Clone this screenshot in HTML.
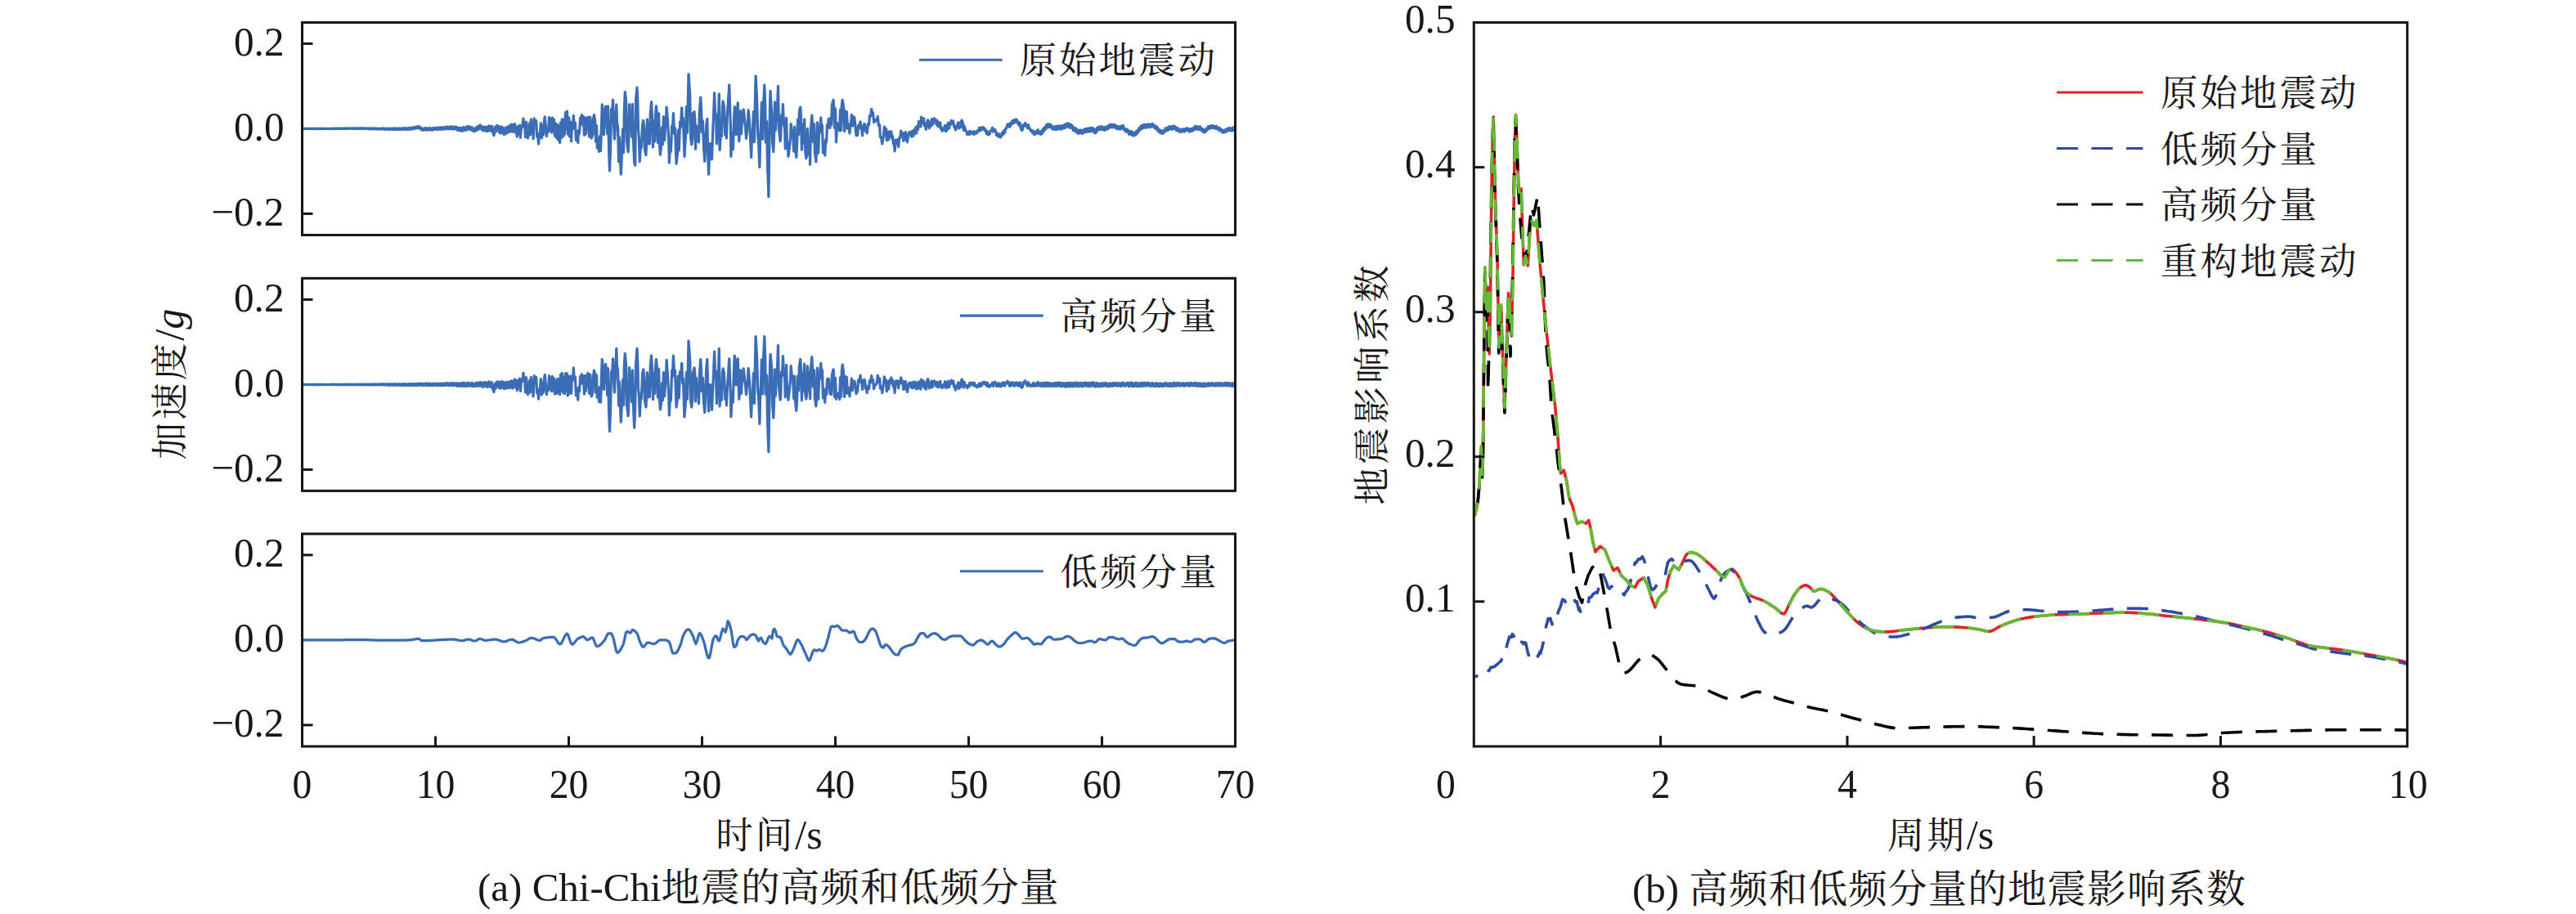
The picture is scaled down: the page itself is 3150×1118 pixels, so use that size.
<!DOCTYPE html>
<html lang="zh"><head><meta charset="utf-8"><title>Chi-Chi地震的高频和低频分量</title>
<style>html,body{margin:0;padding:0;background:#fff;}svg{display:block;}text{font-family:"Liberation Serif","Noto Serif CJK SC",serif;font-size:50px;fill:#1a1718;}.cj{font-size:45.5px;letter-spacing:3px;}.cap{font-size:49px;}.yl .cj{letter-spacing:4px;}.cap .cj{font-size:47.6px;letter-spacing:1.1px;}.ax{stroke:#1a1718;stroke-width:3.05;fill:none;stroke-linecap:square;}.tk{stroke:#1a1718;stroke-width:3.05;fill:none;}.w{stroke:#3a6db5;stroke-width:3.25;fill:none;stroke-linejoin:round;stroke-linecap:round;}.c{fill:none;stroke-width:3.60;stroke-linejoin:round;}.d{stroke-dasharray:26 16.5;}</style></head><body>
<svg width="3150" height="1118" viewBox="0 0 3150 1118">
<rect width="3150" height="1118" fill="#fff"/>
<g>
<path class="w" d="M369.5,157.3 L370.3,157.5 L371.6,157.3 L372.5,157.6 L372.5,157.6 L373.6,157.3 L374.4,157.5 L375.4,157.2 L375.5,157.2 L376.5,157.5 L377.7,157.3 L378.4,157.5 L378.5,157.5 L379.3,157.2 L380.3,157.5 L381.5,157.3 L381.7,157.3 L382.4,157.6 L383.3,157.3 L384.5,157.6 L384.5,157.6 L385.6,157.3 L386.5,157.6 L387.4,157.3 L387.5,157.3 L388.5,157.6 L389.4,157.2 L390.3,157.5 L390.5,157.5 L391.7,157.2 L392.5,157.6 L393.4,157.3 L393.5,157.3 L394.7,157.5 L395.7,157.2 L396.5,157.5 L396.6,157.5 L397.4,157.3 L398.4,157.5 L399.5,157.3 L399.5,157.3 L400.5,157.5 L401.7,157.3 L402.5,157.5 L402.7,157.6 L403.7,157.3 L404.4,157.6 L405.5,157.2 L405.5,157.2 L406.3,157.5 L407.5,157.2 L408.3,157.6 L408.5,157.5 L409.3,157.2 L410.3,157.4 L411.4,157.1 L411.5,157.1 L412.4,157.5 L413.6,157.2 L414.3,157.5 L414.5,157.5 L415.3,157.1 L416.6,157.4 L417.5,157.1 L417.6,157.1 L418.6,157.5 L419.6,157.2 L420.5,157.5 L420.6,157.5 L421.5,157.0 L422.6,157.4 L423.3,157.0 L423.5,157.1 L424.4,157.4 L425.6,156.9 L426.4,157.3 L426.5,157.3 L427.5,156.9 L428.4,157.3 L429.5,157.0 L429.5,157.0 L430.6,157.4 L431.6,156.9 L432.5,157.4 L432.5,157.4 L433.4,156.9 L434.6,157.5 L435.5,156.9 L435.6,156.9 L436.5,157.4 L437.6,156.7 L438.5,157.4 L438.6,157.5 L439.7,156.9 L440.6,157.5 L441.5,156.8 L441.7,156.7 L442.5,157.3 L443.6,156.8 L444.5,157.4 L444.6,157.5 L445.3,156.9 L446.5,157.5 L447.5,156.8 L447.5,156.8 L448.3,157.5 L449.6,156.9 L450.5,157.6 L450.6,157.7 L451.7,156.9 L452.4,157.7 L453.5,157.0 L453.5,157.0 L454.7,157.8 L455.5,157.0 L456.5,157.7 L456.6,157.8 L457.5,156.9 L458.4,157.7 L459.4,157.0 L459.5,157.1 L460.4,158.1 L461.5,157.1 L462.4,157.9 L462.5,157.8 L463.6,157.1 L464.7,158.1 L465.3,157.2 L465.5,157.3 L466.3,158.0 L467.3,157.0 L468.5,157.8 L468.7,157.9 L469.3,157.0 L470.6,158.2 L471.4,157.2 L471.5,157.3 L472.4,158.2 L473.4,157.0 L474.5,158.3 L474.6,158.4 L475.3,157.3 L476.6,158.5 L477.5,157.2 L477.5,157.1 L478.4,158.1 L479.4,157.0 L480.5,158.4 L480.6,158.5 L481.6,157.2 L482.4,158.4 L483.4,156.8 L483.5,156.9 L484.5,158.3 L485.7,157.2 L486.5,158.5 L486.5,158.5 L487.6,157.0 L488.6,158.3 L489.5,156.9 L489.5,156.9 L490.5,158.5 L491.6,157.1 L492.5,158.4 L492.5,158.4 L493.6,156.6 L494.4,158.1 L495.4,156.8 L495.5,156.9 L496.6,158.6 L497.5,156.9 L498.5,158.1 L498.6,158.3 L499.7,156.5 L500.5,158.1 L501.3,156.5 L501.5,156.8 L502.6,158.4 L503.6,156.3 L504.4,157.7 L504.5,157.6 L505.6,155.8 L506.5,157.6 L507.3,155.7 L507.5,155.9 L508.3,157.1 L509.4,155.0 L510.5,156.7 L510.5,156.7 L511.6,154.8 L512.3,156.8 L513.3,155.0 L513.5,155.5 L514.5,158.2 L515.5,156.9 L516.5,159.2 L516.5,159.2 L517.6,157.3 L518.7,159.1 L519.5,157.3 L519.7,156.8 L520.6,158.5 L521.3,156.7 L522.4,159.3 L522.5,159.1 L523.5,157.1 L524.7,158.7 L525.3,156.5 L525.5,156.9 L526.5,158.9 L527.5,157.2 L528.5,159.2 L528.5,159.1 L529.4,156.7 L530.4,158.2 L531.4,156.4 L531.5,156.6 L532.3,158.4 L533.5,156.4 L534.5,158.5 L534.5,158.5 L535.6,156.1 L536.6,158.1 L537.5,156.3 L537.7,155.9 L538.4,158.4 L539.7,155.9 L540.5,158.0 L540.5,157.9 L541.6,155.6 L542.6,158.1 L543.5,155.9 L543.5,156.0 L544.5,157.7 L545.6,155.1 L546.3,157.4 L546.5,157.1 L547.5,155.1 L548.3,157.9 L549.4,155.4 L549.5,155.6 L550.5,157.6 L551.7,154.8 L552.5,157.0 L552.7,157.5 L553.4,155.2 L554.4,158.1 L555.5,155.3 L555.5,155.3 L556.5,157.4 L557.5,155.1 L558.5,158.5 L558.6,158.9 L559.6,156.2 L560.5,159.4 L561.5,156.2 L561.5,156.0 L562.5,159.6 L563.6,156.8 L564.5,159.8 L564.7,160.4 L565.7,156.2 L566.7,159.5 L567.5,156.1 L567.6,155.5 L568.3,159.5 L569.5,156.3 L570.5,158.9 L570.6,159.2 L571.4,154.7 L572.5,157.9 L573.3,154.6 L573.5,155.2 L574.4,158.4 L575.5,155.5 L576.3,159.0 L576.5,158.6 L577.5,155.9 L578.4,160.1 L579.5,158.2 L579.6,157.9 L580.4,160.7 L581.5,156.6 L582.5,159.1 L582.6,159.3 L583.5,155.1 L584.3,158.8 L585.4,154.2 L585.5,154.5 L586.5,157.4 L587.4,152.9 L588.4,157.9 L588.5,157.6 L589.5,154.9 L590.5,160.0 L591.4,155.1 L591.5,155.4 L592.5,159.3 L593.6,155.1 L594.3,160.4 L594.5,159.6 L595.4,155.6 L596.4,160.6 L597.5,154.8 L597.7,153.9 L598.3,159.5 L599.4,154.4 L600.4,160.3 L600.5,159.7 L601.6,154.4 L602.6,161.8 L603.5,164.3 L603.9,165.7 L604.6,161.9 L605.6,155.1 L606.4,160.9 L606.5,160.2 L607.7,153.7 L608.4,159.1 L609.5,154.5 L609.6,154.1 L610.3,161.8 L611.5,155.5 L612.5,163.2 L612.5,163.2 L613.7,155.0 L614.6,162.0 L615.5,156.6 L615.5,156.5 L616.3,164.7 L617.5,157.0 L618.5,163.6 L618.5,163.3 L619.7,155.4 L620.6,162.3 L621.5,155.2 L621.5,155.5 L622.4,161.7 L623.6,153.3 L624.3,160.5 L624.5,159.4 L625.6,152.2 L626.6,161.5 L627.5,152.7 L627.5,152.9 L628.6,160.6 L629.5,151.7 L630.4,162.3 L630.5,161.4 L631.5,155.0 L632.3,167.1 L633.3,154.9 L633.5,156.3 L634.5,164.2 L635.6,153.2 L636.4,168.3 L636.5,166.9 L637.5,155.1 L638.7,155.6 L639.5,149.4 L640.0,145.2 L640.7,154.1 L641.6,150.4 L642.5,167.0 L642.5,167.7 L643.5,149.2 L644.5,165.6 L645.5,168.9 L645.5,169.0 L646.4,164.4 L647.4,150.8 L648.3,164.9 L648.5,161.9 L649.4,145.8 L650.6,161.0 L651.5,159.3 L651.5,159.2 L652.1,169.6 L653.2,144.8 L654.3,153.3 L654.5,152.6 L655.7,147.7 L656.6,167.2 L657.5,163.7 L657.5,163.6 L658.6,176.0 L659.6,163.8 L660.3,166.6 L660.5,163.5 L661.3,150.6 L662.5,168.9 L663.4,153.3 L663.5,154.2 L664.5,164.9 L665.5,147.5 L666.3,142.9 L666.5,145.0 L667.7,157.6 L668.5,166.7 L669.3,157.7 L669.5,158.1 L670.6,161.2 L671.5,143.3 L672.5,158.3 L672.6,159.5 L673.6,145.6 L674.7,162.1 L675.3,143.8 L675.5,145.6 L676.7,159.6 L677.5,146.2 L678.4,166.0 L678.5,164.3 L679.4,151.1 L680.4,168.4 L681.5,154.4 L681.7,152.3 L682.5,171.0 L683.3,154.9 L684.5,173.4 L684.6,174.7 L685.5,150.0 L686.6,168.5 L687.3,145.8 L687.5,148.7 L688.6,166.8 L689.7,145.8 L690.3,164.5 L690.5,160.0 L691.5,137.5 L692.3,157.5 L693.5,136.3 L693.5,136.1 L694.3,164.2 L695.7,144.0 L696.4,166.8 L696.5,165.0 L697.6,149.2 L698.6,172.7 L699.4,154.3 L699.5,154.6 L700.4,157.7 L701.3,141.3 L702.3,154.8 L702.5,154.0 L703.4,150.1 L704.4,171.3 L705.5,161.6 L705.5,161.3 L706.8,174.5 L707.3,159.3 L708.5,163.3 L708.5,163.4 L709.6,144.2 L710.6,152.9 L711.2,140.7 L711.5,143.5 L712.4,151.2 L713.3,142.4 L714.5,165.1 L714.5,165.3 L715.6,144.0 L716.5,164.0 L717.5,149.7 L717.7,147.0 L718.8,143.3 L719.6,147.0 L720.5,165.3 L720.6,167.1 L721.7,143.1 L722.7,162.9 L723.2,169.0 L723.5,168.1 L724.7,164.9 L725.5,144.9 L726.5,140.6 L726.5,140.8 L727.7,148.4 L728.5,173.1 L729.5,154.2 L729.5,153.5 L730.3,181.2 L731.5,170.0 L732.5,183.8 L732.6,185.3 L733.5,166.7 L734.5,184.5 L735.5,152.1 L735.7,146.2 L736.3,127.9 L737.6,140.2 L738.4,164.6 L738.5,161.3 L739.4,138.6 L740.7,130.1 L741.3,138.1 L741.5,140.9 L742.7,163.3 L743.5,130.0 L744.5,179.3 L744.5,180.4 L745.5,208.8 L746.5,180.9 L747.5,133.5 L747.5,133.6 L748.5,139.7 L749.5,122.2 L750.4,148.9 L750.5,150.8 L751.4,170.1 L752.5,153.7 L753.5,134.4 L753.8,127.8 L754.5,150.0 L755.5,154.9 L756.5,193.5 L756.6,197.8 L757.3,167.6 L758.5,195.0 L759.3,213.2 L759.5,209.7 L760.4,189.0 L761.6,157.8 L762.5,184.0 L762.6,186.6 L763.3,136.7 L764.3,112.5 L765.5,123.7 L765.6,124.6 L766.5,171.2 L768.1,185.8 L768.5,177.5 L768.7,173.9 L769.6,127.7 L770.5,156.3 L771.5,138.7 L771.6,136.0 L772.5,167.2 L773.3,127.4 L774.4,170.7 L774.5,172.6 L775.7,198.6 L776.7,202.3 L777.5,125.2 L777.5,122.7 L779.0,107.1 L779.7,122.0 L780.5,158.7 L780.5,159.1 L781.4,169.6 L782.3,197.5 L783.4,177.4 L783.5,177.6 L784.3,180.7 L785.6,152.4 L786.5,148.3 L786.7,147.5 L787.7,157.3 L788.4,183.0 L789.5,187.9 L789.9,189.7 L790.6,175.2 L791.4,146.0 L792.5,176.0 L792.5,175.8 L793.6,150.6 L794.4,175.8 L795.3,138.8 L795.5,137.1 L796.5,124.6 L797.4,141.6 L798.5,179.9 L798.5,179.8 L799.5,148.1 L800.7,172.9 L801.5,142.3 L801.5,141.5 L802.4,129.9 L803.7,142.7 L804.4,174.5 L804.5,172.6 L805.6,138.8 L806.4,175.0 L807.4,189.1 L807.5,187.4 L808.6,179.4 L809.6,155.7 L810.5,176.5 L810.5,176.2 L811.4,142.6 L812.6,171.6 L813.5,156.5 L813.7,153.9 L814.4,152.2 L815.1,131.1 L816.4,146.7 L816.5,149.0 L817.7,170.6 L818.4,199.0 L819.3,178.7 L819.5,179.9 L820.3,185.7 L821.7,153.7 L822.5,160.0 L822.5,159.0 L823.4,138.5 L824.6,163.0 L825.5,156.5 L825.5,157.3 L826.6,187.7 L827.1,200.1 L828.5,187.0 L828.5,186.8 L829.4,159.2 L830.3,183.9 L831.5,149.9 L831.5,148.9 L832.4,155.4 L833.7,131.8 L834.5,149.1 L834.7,152.4 L835.4,144.7 L836.3,171.3 L837.0,191.3 L837.5,180.9 L838.5,166.1 L839.3,130.6 L840.4,162.3 L840.5,159.8 L841.5,115.4 L842.0,90.7 L843.5,113.2 L843.7,116.2 L844.6,167.4 L845.7,176.8 L846.5,171.4 L846.7,170.2 L847.3,138.8 L849.0,136.7 L849.5,143.0 L849.7,145.1 L850.5,182.3 L851.4,153.6 L852.5,171.8 L852.5,172.2 L853.6,159.6 L854.5,173.9 L855.3,138.5 L855.5,135.7 L856.7,119.1 L857.5,133.3 L858.3,161.5 L858.5,158.8 L859.3,147.6 L860.6,181.5 L861.5,194.0 L861.8,197.4 L862.3,186.6 L863.7,152.7 L864.5,147.5 L864.8,145.4 L865.7,187.6 L866.6,213.2 L867.5,189.1 L867.5,187.9 L868.5,175.6 L869.6,175.5 L870.5,194.8 L870.5,194.8 L871.4,168.7 L872.6,141.3 L873.5,115.5 L873.6,113.6 L874.5,137.7 L875.6,141.8 L876.4,175.8 L876.5,173.4 L877.4,140.2 L878.7,140.6 L879.3,114.8 L879.5,134.1 L880.1,183.3 L881.7,157.7 L882.4,166.7 L882.5,163.4 L883.4,129.6 L884.1,124.0 L885.4,130.5 L885.5,132.4 L886.7,165.0 L887.6,155.5 L888.4,168.8 L888.5,167.1 L889.4,139.7 L890.4,123.8 L891.5,108.3 L891.7,103.8 L892.6,132.7 L893.4,154.5 L893.9,191.3 L894.5,175.0 L895.4,162.7 L896.4,182.7 L897.5,147.1 L897.5,146.5 L898.3,130.6 L899.6,141.2 L900.3,164.7 L900.5,160.5 L901.4,138.4 L902.2,125.7 L903.5,164.6 L903.8,172.7 L904.4,163.7 L905.7,135.7 L906.4,163.7 L906.5,162.8 L907.4,147.1 L908.6,148.3 L909.2,133.8 L909.5,136.3 L910.6,147.0 L911.6,156.1 L912.5,169.1 L912.5,169.3 L913.5,158.8 L914.4,151.2 L915.1,134.7 L915.5,138.4 L916.6,150.6 L917.5,168.0 L918.5,188.0 L918.6,192.4 L919.6,163.9 L920.6,158.1 L921.4,136.7 L921.5,140.2 L922.4,173.6 L923.4,125.5 L924.1,92.8 L924.5,100.1 L925.6,122.2 L926.7,164.7 L927.5,173.2 L927.6,174.3 L928.9,204.4 L929.5,172.4 L930.5,154.3 L930.6,152.5 L931.4,125.5 L932.6,170.2 L933.3,132.8 L933.5,129.2 L934.8,103.8 L935.7,128.2 L936.4,174.2 L936.5,171.6 L937.6,148.6 L938.6,203.6 L939.5,226.4 L939.9,240.6 L940.5,197.0 L941.5,130.4 L942.1,111.4 L942.5,121.5 L943.7,138.6 L944.6,173.6 L945.5,182.1 L945.8,185.5 L946.5,165.7 L947.5,124.9 L948.3,159.3 L948.5,155.7 L949.4,140.3 L950.4,136.8 L951.5,105.3 L951.5,107.3 L952.4,156.0 L954.1,172.9 L954.5,169.2 L954.7,167.5 L955.5,140.8 L956.6,147.0 L957.4,127.5 L957.5,130.3 L958.6,153.7 L959.6,156.3 L960.3,181.9 L960.5,176.3 L961.6,144.3 L962.4,173.1 L963.4,174.6 L963.5,178.2 L963.9,191.3 L965.5,179.4 L966.5,169.7 L966.6,168.6 L967.2,151.6 L968.7,165.4 L969.5,161.4 L969.6,161.1 L970.6,184.9 L971.5,155.1 L972.3,181.5 L972.5,182.6 L973.8,192.4 L974.6,177.2 L975.5,146.5 L975.5,147.0 L976.5,164.8 L977.4,136.2 L978.5,131.6 L978.8,131.1 L979.5,143.6 L980.4,183.2 L981.5,156.5 L981.7,152.7 L982.4,175.2 L983.7,145.9 L984.5,177.4 L984.6,182.9 L985.8,193.5 L986.6,189.5 L987.5,158.5 L987.5,157.3 L988.5,189.5 L989.6,168.2 L990.5,194.4 L990.6,201.2 L991.4,160.9 L992.8,141.0 L993.3,149.6 L993.5,154.1 L994.3,173.4 L995.5,151.5 L996.4,186.2 L996.5,186.8 L997.9,197.9 L998.5,185.5 L999.5,149.9 L999.5,150.3 L1000.7,187.2 L1001.7,157.1 L1002.4,162.2 L1002.5,161.4 L1003.8,143.9 L1004.6,160.8 L1005.4,153.0 L1005.5,156.9 L1006.5,187.0 L1007.6,174.9 L1008.5,185.5 L1008.8,190.2 L1009.6,170.8 L1010.6,174.0 L1011.5,152.6 L1011.5,152.8 L1012.4,156.0 L1013.2,145.4 L1014.5,153.8 L1014.9,156.5 L1015.6,144.3 L1016.5,152.9 L1017.4,128.1 L1017.5,127.8 L1019.1,122.4 L1019.5,127.3 L1020.4,156.1 L1020.5,153.0 L1021.5,132.9 L1022.5,173.8 L1023.5,151.6 L1023.7,150.5 L1025.5,152.1 L1026.5,158.7 L1026.7,159.9 L1027.5,134.1 L1028.6,159.4 L1029.3,128.8 L1029.5,127.4 L1030.2,122.4 L1031.4,129.5 L1032.5,156.8 L1032.7,160.5 L1033.5,135.5 L1034.4,156.2 L1035.3,136.7 L1035.5,139.6 L1036.5,157.2 L1037.3,152.2 L1038.5,159.9 L1039.0,163.0 L1039.6,151.7 L1040.4,153.3 L1041.4,140.4 L1041.5,142.1 L1042.4,154.1 L1043.4,143.0 L1044.5,143.3 L1044.9,144.1 L1046.6,161.1 L1047.1,165.8 L1047.5,165.7 L1048.6,165.5 L1049.6,153.4 L1050.4,156.7 L1050.5,156.1 L1052.1,148.8 L1052.7,157.0 L1053.5,154.9 L1053.5,154.8 L1054.6,165.9 L1055.4,154.8 L1056.5,152.6 L1056.9,151.5 L1057.6,152.5 L1058.6,160.9 L1059.4,156.9 L1059.5,157.8 L1060.2,162.9 L1061.4,152.0 L1062.5,152.8 L1062.6,152.8 L1063.4,141.3 L1064.7,142.0 L1065.5,134.6 L1065.7,133.3 L1066.7,140.1 L1067.5,137.7 L1068.5,148.4 L1068.6,149.6 L1069.7,146.4 L1071.5,147.9 L1071.5,148.0 L1072.4,147.5 L1073.3,142.5 L1074.4,153.6 L1074.5,153.6 L1075.6,153.0 L1076.4,167.7 L1077.5,167.9 L1077.6,167.9 L1078.8,176.0 L1079.7,169.9 L1080.5,165.9 L1080.6,165.1 L1081.4,155.2 L1082.6,160.1 L1083.4,157.3 L1083.5,159.2 L1084.3,171.7 L1085.6,160.8 L1086.5,169.4 L1086.7,170.9 L1087.6,161.1 L1088.5,166.3 L1089.5,162.0 L1089.8,160.9 L1090.6,169.1 L1091.5,166.6 L1092.4,175.7 L1092.5,175.8 L1093.6,177.4 L1094.1,184.8 L1095.2,171.1 L1095.5,172.0 L1096.6,175.4 L1097.6,170.9 L1098.5,178.6 L1098.6,179.6 L1099.7,168.8 L1100.7,168.3 L1101.5,162.1 L1101.8,160.0 L1102.5,165.9 L1103.6,162.5 L1104.5,170.7 L1104.7,172.4 L1105.6,163.5 L1106.3,171.0 L1107.3,161.5 L1107.5,162.8 L1108.5,169.9 L1109.5,173.8 L1110.5,166.3 L1110.7,165.3 L1111.6,162.0 L1112.5,163.9 L1113.5,161.4 L1113.5,161.4 L1114.3,167.0 L1115.3,160.6 L1116.5,166.8 L1116.5,166.8 L1117.5,159.1 L1118.6,163.8 L1119.4,156.4 L1119.5,157.0 L1120.6,162.8 L1121.4,154.4 L1122.5,158.5 L1122.5,158.5 L1123.6,148.5 L1124.4,154.6 L1125.5,154.6 L1125.9,154.9 L1126.5,143.2 L1127.7,144.6 L1128.3,151.0 L1128.5,150.0 L1129.6,144.9 L1130.6,154.2 L1131.5,153.7 L1131.7,153.6 L1132.4,158.4 L1133.3,150.8 L1134.5,147.3 L1134.6,146.9 L1135.4,148.8 L1136.3,156.7 L1137.3,149.1 L1137.5,149.7 L1138.6,154.0 L1139.5,145.6 L1140.5,151.7 L1140.6,152.3 L1141.6,146.8 L1142.3,144.9 L1143.5,145.9 L1143.7,146.2 L1144.7,151.5 L1145.7,147.2 L1146.5,153.4 L1146.6,154.2 L1147.5,149.3 L1148.4,155.2 L1149.5,150.7 L1149.7,150.0 L1150.5,157.8 L1151.5,156.5 L1152.1,160.2 L1152.5,159.4 L1153.6,157.0 L1154.6,158.9 L1155.5,153.5 L1155.5,153.3 L1156.5,160.7 L1157.6,153.7 L1158.5,159.0 L1158.5,158.6 L1159.4,150.3 L1160.7,156.7 L1161.5,151.1 L1161.6,150.2 L1162.6,152.3 L1163.1,147.7 L1164.3,151.4 L1164.5,151.0 L1165.7,147.9 L1166.7,155.4 L1167.4,154.4 L1167.5,154.7 L1168.5,159.1 L1169.3,154.1 L1170.5,155.9 L1170.5,155.7 L1171.6,149.9 L1172.4,157.2 L1173.5,151.1 L1173.6,150.4 L1174.7,155.8 L1175.4,148.2 L1176.2,147.0 L1176.5,147.9 L1177.5,150.9 L1178.4,159.6 L1179.4,154.5 L1179.5,154.7 L1180.5,159.6 L1181.7,160.3 L1182.5,163.5 L1182.8,164.5 L1183.3,162.4 L1184.3,164.4 L1185.5,160.9 L1185.7,160.4 L1186.5,164.1 L1187.5,161.7 L1188.2,161.0 L1188.5,161.2 L1189.6,162.0 L1190.5,164.4 L1191.5,160.7 L1191.5,160.6 L1192.4,163.6 L1193.6,161.3 L1194.5,162.3 L1194.8,162.7 L1195.4,159.8 L1196.5,160.1 L1197.5,156.8 L1197.6,156.3 L1198.4,160.0 L1199.4,156.3 L1200.4,158.8 L1200.5,158.4 L1201.5,155.6 L1202.6,158.1 L1203.5,156.6 L1203.5,156.5 L1204.5,159.7 L1205.5,158.9 L1206.3,163.7 L1206.5,163.3 L1207.5,160.7 L1208.4,165.0 L1209.4,162.7 L1209.5,162.9 L1210.1,163.8 L1211.3,159.9 L1212.4,159.6 L1212.5,159.4 L1213.5,156.3 L1214.5,161.1 L1215.3,158.1 L1215.5,158.2 L1216.7,158.7 L1217.4,160.4 L1218.5,165.4 L1218.5,165.4 L1219.7,163.2 L1220.7,167.1 L1221.5,164.4 L1221.7,163.9 L1222.5,167.3 L1223.2,167.9 L1224.5,166.7 L1224.6,166.6 L1225.4,162.3 L1226.7,164.3 L1227.3,160.1 L1227.5,160.5 L1228.6,162.6 L1229.4,157.8 L1230.4,157.3 L1230.5,156.9 L1232.0,152.1 L1232.7,154.1 L1233.4,151.7 L1233.5,152.1 L1234.7,155.4 L1235.4,150.8 L1236.4,153.0 L1236.5,152.7 L1237.4,148.3 L1238.7,150.8 L1239.3,147.0 L1239.5,147.3 L1240.6,150.2 L1241.4,146.5 L1242.5,146.0 L1242.9,146.1 L1243.6,147.3 L1244.4,151.2 L1245.5,149.1 L1245.5,149.1 L1246.4,153.7 L1247.5,150.8 L1248.3,156.8 L1248.5,157.3 L1249.5,159.5 L1250.5,158.4 L1251.4,152.9 L1251.5,153.1 L1252.3,154.2 L1253.9,150.5 L1254.3,153.7 L1254.5,153.6 L1255.4,152.9 L1256.3,156.7 L1257.5,152.7 L1257.5,152.9 L1258.5,157.2 L1259.5,157.2 L1260.0,159.7 L1260.5,159.7 L1261.4,159.5 L1262.6,162.4 L1263.4,159.9 L1263.5,160.3 L1264.4,164.5 L1265.5,161.5 L1266.4,164.0 L1266.5,163.7 L1267.6,160.2 L1268.3,162.7 L1269.4,158.8 L1269.5,159.1 L1270.5,163.5 L1271.4,161.2 L1272.5,164.1 L1272.6,164.4 L1273.4,160.4 L1274.5,163.2 L1275.5,157.7 L1275.5,157.8 L1276.6,160.3 L1277.4,155.7 L1278.5,157.9 L1278.6,158.1 L1279.7,152.6 L1280.4,156.0 L1281.4,151.8 L1281.5,152.2 L1282.6,155.6 L1283.4,151.8 L1284.4,155.4 L1284.5,155.0 L1285.3,152.8 L1286.5,157.5 L1287.5,155.7 L1287.7,155.4 L1288.7,158.4 L1289.5,154.7 L1290.5,158.3 L1290.5,158.2 L1291.7,154.6 L1292.6,158.5 L1293.5,154.9 L1293.7,154.2 L1294.6,157.5 L1295.6,153.8 L1296.5,157.8 L1296.6,158.2 L1297.4,154.6 L1298.4,157.9 L1299.3,153.6 L1299.5,154.1 L1300.7,156.8 L1301.7,152.7 L1302.5,156.2 L1302.5,156.4 L1303.4,151.8 L1304.3,155.2 L1305.5,150.7 L1305.5,150.8 L1306.5,155.1 L1307.4,151.6 L1308.3,156.3 L1308.5,155.8 L1309.6,152.2 L1310.6,156.7 L1311.3,153.9 L1311.5,154.8 L1312.4,159.4 L1313.4,156.2 L1314.5,160.5 L1314.5,160.6 L1315.5,156.8 L1316.5,161.7 L1317.5,159.2 L1317.6,158.8 L1318.5,163.4 L1319.4,159.3 L1320.5,162.4 L1320.6,162.7 L1321.6,159.0 L1322.7,163.2 L1323.4,159.6 L1323.5,160.1 L1324.4,163.1 L1325.5,158.4 L1326.5,160.9 L1326.7,161.3 L1327.5,157.7 L1328.5,161.7 L1329.4,157.4 L1329.5,157.6 L1330.7,160.7 L1331.4,156.8 L1332.5,160.8 L1332.5,160.9 L1333.6,156.6 L1334.6,160.6 L1335.5,156.8 L1335.6,156.3 L1336.5,160.6 L1337.4,157.4 L1338.5,162.1 L1338.7,162.9 L1339.5,158.9 L1340.4,162.1 L1341.4,156.6 L1341.5,156.9 L1342.6,159.1 L1343.6,155.1 L1344.5,158.3 L1344.5,158.5 L1345.5,154.8 L1346.6,158.3 L1347.5,155.4 L1347.7,154.8 L1348.5,158.7 L1349.6,156.1 L1350.5,158.8 L1350.7,159.2 L1351.6,155.5 L1352.5,158.5 L1353.4,155.0 L1353.5,155.3 L1354.6,157.8 L1355.6,153.7 L1356.5,155.6 L1356.7,156.1 L1357.4,152.4 L1358.3,155.8 L1359.5,152.6 L1359.6,152.4 L1360.6,156.0 L1361.3,152.3 L1362.5,155.5 L1362.5,155.6 L1363.4,152.9 L1364.7,156.9 L1365.4,154.1 L1365.5,154.3 L1366.3,157.6 L1367.6,154.6 L1368.4,157.8 L1368.5,157.6 L1369.5,154.8 L1370.4,158.2 L1371.4,154.1 L1371.5,154.2 L1372.4,156.7 L1373.4,153.5 L1374.5,158.7 L1374.5,158.9 L1375.4,157.3 L1376.6,161.0 L1377.5,158.4 L1377.7,158.0 L1378.5,161.3 L1379.3,159.1 L1380.5,163.5 L1380.7,164.2 L1381.4,160.5 L1382.4,164.4 L1383.5,160.7 L1383.5,160.6 L1384.5,165.4 L1385.4,162.1 L1386.5,166.1 L1386.5,166.1 L1387.6,162.3 L1388.5,165.0 L1389.4,160.7 L1389.5,161.0 L1390.5,163.8 L1391.5,158.8 L1392.4,161.1 L1392.5,160.7 L1393.5,155.9 L1394.5,158.6 L1395.5,153.8 L1395.5,153.9 L1396.6,157.3 L1397.6,152.8 L1398.5,156.0 L1398.6,156.2 L1399.4,152.4 L1400.7,156.1 L1401.3,152.7 L1401.5,153.1 L1402.6,156.0 L1403.5,152.0 L1404.5,154.8 L1404.5,154.7 L1405.6,152.1 L1406.6,155.8 L1407.5,152.8 L1407.7,152.2 L1408.7,154.6 L1409.3,151.3 L1410.5,155.3 L1410.5,155.3 L1411.6,153.3 L1412.3,156.9 L1413.5,154.1 L1413.5,154.0 L1414.7,158.4 L1415.4,156.0 L1416.3,160.7 L1416.5,160.4 L1417.4,158.4 L1418.4,162.3 L1419.4,159.4 L1419.5,159.8 L1420.5,163.3 L1421.6,160.4 L1422.5,163.0 L1422.5,163.0 L1423.5,159.1 L1424.3,161.0 L1425.3,157.0 L1425.5,157.3 L1426.7,159.7 L1427.4,156.5 L1428.5,158.6 L1428.7,159.0 L1429.4,155.0 L1430.6,157.6 L1431.5,154.9 L1431.6,154.7 L1432.3,158.3 L1433.3,154.9 L1434.5,157.9 L1434.5,157.8 L1435.4,153.8 L1436.4,157.4 L1437.4,155.2 L1437.5,155.7 L1438.4,159.5 L1439.5,156.5 L1440.4,159.8 L1440.5,159.7 L1441.4,157.5 L1442.5,161.3 L1443.5,158.8 L1443.6,158.6 L1444.3,161.1 L1445.7,157.9 L1446.5,160.9 L1446.5,160.9 L1447.7,158.0 L1448.3,161.2 L1449.3,157.6 L1449.5,157.9 L1450.3,159.4 L1451.7,156.6 L1452.5,159.9 L1452.5,159.8 L1453.6,157.6 L1454.6,161.1 L1455.3,157.8 L1455.5,158.2 L1456.4,160.5 L1457.4,157.4 L1458.5,160.0 L1458.5,159.9 L1459.6,156.2 L1460.3,158.5 L1461.5,154.8 L1461.7,154.3 L1462.5,157.9 L1463.4,154.9 L1464.5,158.3 L1464.6,158.5 L1465.4,155.0 L1466.6,158.1 L1467.5,154.9 L1467.5,155.0 L1468.5,159.0 L1469.4,157.0 L1470.4,160.9 L1470.5,160.6 L1471.6,158.1 L1472.5,162.0 L1473.5,158.8 L1473.5,158.9 L1474.6,161.1 L1475.7,156.8 L1476.4,158.8 L1476.5,158.3 L1477.7,154.4 L1478.3,157.5 L1479.5,154.8 L1479.5,154.7 L1480.4,156.9 L1481.4,153.5 L1482.5,156.1 L1482.5,156.1 L1483.5,153.9 L1484.5,156.9 L1485.5,154.6 L1485.6,154.4 L1486.7,157.2 L1487.4,154.4 L1488.4,157.5 L1488.5,157.3 L1489.5,155.9 L1490.5,159.3 L1491.4,156.6 L1491.5,156.8 L1492.5,159.9 L1493.6,158.1 L1494.5,161.3 L1494.7,161.9 L1495.7,160.0 L1496.6,162.1 L1497.4,159.1 L1497.5,159.2 L1498.7,161.4 L1499.6,158.0 L1500.4,160.8 L1500.5,160.4 L1501.7,157.0 L1502.4,159.5 L1503.5,156.6 L1503.6,156.4 L1504.6,159.8 L1505.7,156.9 L1506.5,159.7 L1506.6,159.9 L1507.7,156.3 L1508.3,159.3 L1509.3,155.5 L1510.5,157.9"/>
<rect class="ax" x="369.5" y="27.5" width="1141.0" height="260.0"/>
<line class="tk" x1="369.5" y1="53.4" x2="382.5" y2="53.4"/>
<text transform="translate(347.5 67.8) scale(0.985 1)" text-anchor="end">0.2</text>
<text transform="translate(347.5 171.8) scale(0.985 1)" text-anchor="end">0.0</text>
<line class="tk" x1="369.5" y1="261.4" x2="382.5" y2="261.4"/>
<text transform="translate(347.5 275.8) scale(0.985 1)" text-anchor="end">−0.2</text>
<line x1="1124.0" y1="73.2" x2="1225.7" y2="73.2" stroke="#3a6db5" stroke-width="3.05"/>
<text x="1246.5" y="90.2"><tspan class="cj">原始地震动</tspan></text>
</g>
<g>
<path class="w" d="M369.5,470.3 L370.3,470.5 L371.6,470.3 L372.5,470.6 L373.6,470.3 L374.4,470.5 L375.4,470.2 L376.5,470.5 L377.7,470.3 L378.4,470.5 L379.3,470.2 L380.3,470.5 L381.7,470.3 L382.4,470.6 L383.3,470.3 L384.5,470.6 L385.6,470.3 L386.5,470.6 L387.4,470.3 L388.5,470.6 L389.4,470.2 L390.3,470.5 L391.7,470.2 L392.5,470.6 L393.4,470.3 L394.7,470.5 L395.7,470.2 L396.6,470.5 L397.4,470.3 L398.4,470.5 L399.5,470.3 L400.5,470.5 L401.7,470.3 L402.7,470.6 L403.7,470.3 L404.4,470.6 L405.5,470.2 L406.3,470.5 L407.5,470.2 L408.3,470.6 L409.3,470.2 L410.3,470.5 L411.4,470.2 L412.4,470.6 L413.6,470.3 L414.3,470.6 L415.3,470.2 L416.6,470.5 L417.6,470.2 L418.6,470.6 L419.6,470.3 L420.6,470.7 L421.5,470.2 L422.6,470.6 L423.3,470.2 L424.4,470.6 L425.6,470.1 L426.4,470.5 L427.5,470.1 L428.4,470.6 L429.5,470.2 L430.6,470.6 L431.6,470.2 L432.5,470.7 L433.4,470.1 L434.6,470.7 L435.6,470.2 L436.5,470.7 L437.6,470.0 L438.6,470.8 L439.7,470.2 L440.6,470.8 L441.7,470.0 L442.5,470.6 L443.6,470.1 L444.6,470.8 L445.3,470.2 L446.5,470.7 L447.5,470.0 L448.3,470.7 L449.6,470.1 L450.6,470.8 L451.7,470.0 L452.4,470.7 L453.5,470.1 L454.7,470.8 L455.5,470.0 L456.6,470.8 L457.5,469.9 L458.4,470.6 L459.4,469.9 L460.4,470.9 L461.5,469.9 L462.4,470.7 L463.6,469.9 L464.7,470.8 L465.3,469.9 L466.3,470.7 L467.3,469.7 L468.7,470.7 L469.3,469.7 L470.6,470.9 L471.4,469.9 L472.4,470.9 L473.4,469.8 L474.6,471.1 L475.3,470.0 L476.6,471.2 L477.5,469.8 L478.4,470.9 L479.4,469.7 L480.6,471.2 L481.6,469.9 L482.4,471.2 L483.4,469.5 L484.5,471.0 L485.7,469.9 L486.5,471.3 L487.6,469.8 L488.6,471.1 L489.5,469.7 L490.5,471.3 L491.6,469.9 L492.5,471.3 L493.6,469.5 L494.4,471.0 L495.4,469.7 L496.6,471.5 L497.5,469.9 L498.6,471.3 L499.7,469.5 L500.5,471.2 L501.3,469.6 L502.6,471.6 L503.6,469.6 L504.4,471.2 L505.6,469.5 L506.5,471.5 L507.3,469.7 L508.3,471.3 L509.4,469.4 L510.5,471.2 L511.6,469.3 L512.3,471.4 L513.3,469.1 L514.5,470.9 L515.5,469.2 L516.5,471.5 L517.6,469.5 L518.7,471.3 L519.7,469.1 L520.6,470.8 L521.3,469.0 L522.4,471.7 L523.5,469.5 L524.7,471.2 L525.3,469.0 L526.5,471.4 L527.5,469.7 L528.5,471.9 L529.4,469.4 L530.4,471.0 L531.4,469.2 L532.3,471.2 L533.5,469.4 L534.5,471.5 L535.6,469.2 L536.6,471.2 L537.7,469.1 L538.4,471.6 L539.7,469.2 L540.5,471.4 L541.6,469.0 L542.6,471.6 L543.5,469.4 L544.5,471.2 L545.6,468.6 L546.3,471.0 L547.5,468.7 L548.3,471.6 L549.4,469.1 L550.5,471.4 L551.7,468.6 L552.7,471.3 L553.4,468.9 L554.4,471.8 L555.5,469.0 L556.5,471.0 L557.5,468.6 L558.6,472.1 L559.6,469.3 L560.5,472.2 L561.5,468.7 L562.5,472.0 L563.6,469.1 L564.7,472.6 L565.7,468.4 L566.7,471.9 L567.6,468.1 L568.3,472.3 L569.5,469.4 L570.6,472.6 L571.4,468.4 L572.5,471.7 L573.3,468.3 L574.4,472.1 L575.5,468.9 L576.3,472.1 L577.5,468.5 L578.4,472.4 L579.6,469.9 L580.4,472.7 L581.5,468.6 L582.6,471.8 L583.5,468.1 L584.3,472.3 L585.4,468.4 L586.5,472.0 L587.4,467.4 L588.4,472.1 L589.5,468.7 L590.5,473.4 L591.4,468.0 L592.5,471.9 L593.6,467.6 L594.3,472.9 L595.4,468.3 L596.4,473.3 L597.7,466.8 L598.3,472.5 L599.4,467.6 L600.4,473.6 L601.6,467.9 L602.6,475.4 L603.9,479.4 L604.6,475.6 L605.6,468.9 L606.4,474.6 L607.7,467.2 L608.4,472.4 L609.6,467.0 L610.3,474.5 L611.5,467.7 L612.5,475.0 L613.7,466.4 L614.6,473.2 L615.5,467.6 L616.3,475.7 L617.5,468.1 L618.5,475.0 L619.7,467.1 L620.6,474.5 L621.5,467.8 L622.4,474.6 L623.6,466.7 L624.3,474.0 L625.6,466.0 L626.6,475.1 L627.5,466.1 L628.6,473.4 L629.5,463.9 L630.4,474.0 L631.5,465.9 L632.3,477.5 L633.3,465.0 L634.5,474.1 L635.6,463.2 L636.4,478.4 L637.5,465.5 L638.7,466.3 L640.0,456.4 L640.7,465.5 L641.6,462.1 L642.5,479.8 L643.5,461.7 L644.5,478.7 L645.5,482.7 L646.4,478.7 L647.4,465.7 L648.3,480.2 L649.4,461.4 L650.6,476.6 L651.5,474.6 L652.1,484.8 L653.2,459.7 L654.3,467.7 L655.7,461.4 L656.6,480.6 L657.5,476.6 L658.6,488.1 L659.6,476.3 L660.3,479.2 L661.3,463.7 L662.5,482.9 L663.4,468.1 L664.5,480.1 L665.5,463.0 L666.3,458.6 L667.7,473.4 L668.5,482.7 L669.3,473.7 L670.6,477.4 L671.5,459.6 L672.6,475.9 L673.6,462.1 L674.7,478.6 L675.3,460.4 L676.7,476.2 L677.5,462.7 L678.4,481.9 L679.4,465.6 L680.4,481.4 L681.7,463.3 L682.5,480.7 L683.3,463.6 L684.6,482.6 L685.5,458.1 L686.6,477.9 L687.3,456.4 L688.6,480.2 L689.7,461.4 L690.3,481.6 L691.5,456.7 L692.3,477.8 L693.5,456.8 L694.3,484.0 L695.7,460.6 L696.4,481.2 L697.6,459.9 L698.6,481.1 L699.4,461.9 L700.4,465.5 L701.3,449.8 L702.3,464.4 L703.4,461.2 L704.4,483.8 L705.5,475.1 L706.8,489.2 L707.3,474.3 L708.5,479.0 L709.6,460.4 L710.6,469.5 L711.2,457.5 L712.4,468.3 L713.3,459.5 L714.5,482.0 L715.6,459.5 L716.5,478.2 L717.7,460.1 L718.8,456.4 L719.6,460.4 L720.6,481.1 L721.7,458.0 L722.7,478.4 L723.2,484.8 L724.7,480.9 L725.5,459.9 L726.5,453.1 L727.7,457.4 L728.5,479.9 L729.5,458.9 L730.3,486.4 L731.5,475.6 L732.6,491.4 L733.5,473.4 L734.5,492.0 L735.7,454.9 L736.3,439.5 L737.6,451.0 L738.4,476.4 L739.4,451.7 L740.7,445.5 L741.3,455.2 L742.7,483.3 L743.5,450.5 L744.5,500.2 L745.5,527.5 L746.5,502.1 L747.5,454.4 L748.5,458.9 L749.5,438.9 L750.4,463.0 L751.4,480.0 L752.5,458.0 L753.8,426.4 L754.5,447.5 L755.5,452.6 L756.6,496.2 L757.3,466.7 L758.5,495.7 L759.3,516.1 L760.4,493.1 L761.6,464.5 L762.6,495.3 L763.3,448.3 L764.3,432.3 L765.6,447.4 L766.5,495.1 L768.1,508.9 L768.7,496.5 L769.6,449.7 L770.5,477.9 L771.6,458.3 L772.5,491.5 L773.3,452.8 L774.4,495.9 L775.7,523.1 L776.7,497.5 L777.5,445.6 L779.0,426.4 L779.7,441.6 L780.5,475.9 L781.4,483.7 L782.3,508.9 L783.4,486.3 L784.3,487.6 L785.6,457.4 L786.7,452.0 L787.7,462.4 L788.4,489.0 L789.9,498.0 L790.6,484.3 L791.4,455.7 L792.5,485.9 L793.6,460.4 L794.4,485.3 L795.3,448.0 L796.5,435.2 L797.4,450.3 L798.5,488.4 L799.5,456.5 L800.7,481.4 L801.5,450.5 L802.4,439.5 L803.7,453.5 L804.4,485.9 L805.6,451.1 L806.4,487.8 L807.4,500.8 L808.6,492.4 L809.6,468.7 L810.5,489.5 L811.4,455.6 L812.6,484.6 L813.7,466.9 L814.4,465.1 L815.1,440.4 L816.4,458.8 L817.7,481.8 L818.4,507.8 L819.3,487.2 L820.3,490.2 L821.7,452.9 L822.5,457.1 L823.4,435.2 L824.6,459.8 L825.5,453.4 L826.6,484.9 L827.1,498.0 L828.5,486.2 L829.4,460.2 L830.3,486.8 L831.5,454.6 L832.4,463.2 L833.7,444.4 L834.7,468.7 L835.4,463.2 L836.3,491.5 L837.0,510.0 L838.5,489.9 L839.3,455.5 L840.4,488.2 L841.5,441.6 L842.0,417.0 L843.7,440.9 L844.6,490.7 L845.7,498.0 L846.7,489.5 L847.3,456.7 L849.0,449.8 L849.7,456.0 L850.5,491.0 L851.4,462.2 L852.5,484.1 L853.6,475.9 L854.5,493.6 L855.3,459.9 L856.7,439.5 L857.5,452.6 L858.3,478.8 L859.3,462.2 L860.6,492.9 L861.8,504.5 L862.3,491.2 L863.7,451.5 L864.8,439.5 L865.7,479.3 L866.6,503.0 L867.5,479.4 L868.5,470.5 L869.6,476.4 L870.5,501.3 L871.4,479.9 L872.6,456.6 L873.6,430.1 L874.5,455.5 L875.6,460.2 L876.4,493.5 L877.4,454.8 L878.7,452.2 L879.3,426.4 L880.1,496.9 L881.7,477.2 L882.4,489.3 L883.4,455.4 L884.1,450.9 L885.4,456.1 L886.7,488.0 L887.6,478.0 L888.4,495.8 L889.4,473.8 L890.4,460.0 L891.7,438.9 L892.6,463.1 L893.4,481.8 L893.9,509.6 L895.4,479.5 L896.4,491.9 L897.5,451.6 L898.3,435.2 L899.6,446.6 L900.3,470.9 L901.4,448.3 L902.2,438.9 L903.8,488.1 L904.4,479.8 L905.7,452.8 L906.4,481.3 L907.4,464.8 L908.6,465.7 L909.2,450.9 L910.6,463.4 L911.6,471.4 L912.5,482.7 L913.5,472.1 L914.4,465.7 L915.1,450.5 L916.6,468.4 L917.5,486.4 L918.6,510.0 L919.6,483.5 L920.6,478.1 L921.4,456.7 L922.4,493.3 L923.4,444.6 L924.1,411.5 L925.6,437.6 L926.7,477.3 L927.6,486.4 L928.9,518.3 L929.5,488.1 L930.6,468.2 L931.4,439.8 L932.6,481.8 L933.3,442.9 L934.8,411.5 L935.7,436.7 L936.4,482.6 L937.6,459.2 L938.6,517.1 L939.9,552.7 L940.5,514.1 L941.5,448.6 L942.1,433.4 L943.7,450.9 L944.6,494.3 L945.8,511.1 L946.5,492.2 L947.5,451.9 L948.3,484.1 L949.4,459.3 L950.4,454.2 L951.5,422.5 L952.4,472.8 L954.1,489.2 L954.7,483.5 L955.5,455.1 L956.6,457.7 L957.4,435.6 L958.6,459.8 L959.6,460.9 L960.3,485.7 L961.6,446.5 L962.4,474.3 L963.4,474.1 L963.9,489.2 L965.5,475.3 L966.6,464.1 L967.2,447.6 L968.7,463.9 L969.6,461.5 L970.6,487.5 L971.5,460.0 L972.3,488.9 L973.8,502.3 L974.6,490.0 L975.5,460.0 L976.5,477.7 L977.4,447.9 L978.8,439.5 L979.5,451.8 L980.4,489.8 L981.7,456.6 L982.4,477.6 L983.7,445.2 L984.6,480.1 L985.8,488.1 L986.6,482.3 L987.5,447.8 L988.5,478.0 L989.6,455.9 L990.6,487.7 L991.4,452.6 L992.8,436.7 L993.3,446.6 L994.3,472.9 L995.5,452.8 L996.4,487.2 L997.9,496.9 L998.5,485.4 L999.5,450.2 L1000.7,488.2 L1001.7,458.4 L1002.4,463.5 L1003.8,444.4 L1004.6,460.7 L1005.4,452.6 L1006.5,486.8 L1007.6,476.2 L1008.8,492.5 L1009.6,476.1 L1010.6,482.4 L1011.5,464.1 L1012.4,470.9 L1013.2,463.0 L1014.9,481.6 L1015.6,472.0 L1016.5,482.7 L1017.4,458.1 L1019.1,452.0 L1019.5,456.8 L1020.4,485.4 L1021.5,462.4 L1022.5,488.3 L1023.7,481.1 L1025.5,481.8 L1026.7,488.5 L1027.5,461.6 L1028.6,485.0 L1029.3,453.7 L1030.2,446.1 L1031.4,454.3 L1032.7,485.3 L1033.5,460.3 L1034.4,480.9 L1035.3,461.3 L1036.5,481.1 L1037.3,475.2 L1039.0,484.8 L1039.6,473.6 L1040.4,475.5 L1041.4,463.2 L1042.4,477.6 L1043.4,466.8 L1044.9,466.2 L1046.6,477.9 L1047.1,481.6 L1048.6,478.6 L1049.6,464.9 L1050.4,467.5 L1052.1,459.2 L1052.7,467.5 L1053.5,465.2 L1054.6,476.4 L1055.4,465.8 L1056.9,464.1 L1057.6,465.8 L1058.6,475.6 L1059.4,472.7 L1060.2,480.5 L1061.4,472.5 L1062.6,475.6 L1063.4,465.4 L1064.7,467.8 L1065.7,459.7 L1066.7,467.1 L1067.5,464.3 L1068.6,475.6 L1069.7,471.6 L1071.5,470.2 L1072.4,467.2 L1073.3,459.2 L1074.4,467.4 L1075.6,462.9 L1076.4,475.0 L1077.6,472.7 L1078.8,480.5 L1079.7,473.6 L1080.6,469.0 L1081.4,460.8 L1082.6,467.7 L1083.4,464.7 L1084.3,478.7 L1085.6,466.8 L1086.7,476.0 L1087.6,465.2 L1088.5,469.1 L1089.8,461.9 L1090.6,468.8 L1091.5,465.2 L1092.4,473.2 L1093.6,473.4 L1094.1,480.5 L1095.2,466.2 L1096.6,470.3 L1097.6,465.7 L1098.6,474.8 L1099.7,466.5 L1100.7,468.7 L1101.8,461.9 L1102.5,468.3 L1103.6,465.7 L1104.7,476.3 L1105.6,467.8 L1106.3,475.6 L1107.3,466.5 L1108.5,475.3 L1109.5,479.4 L1110.7,471.4 L1111.6,468.4 L1112.5,470.5 L1113.5,468.3 L1114.3,474.2 L1115.3,468.0 L1116.5,474.7 L1117.5,467.4 L1118.6,473.2 L1119.4,467.1 L1120.6,475.9 L1121.4,469.1 L1122.5,475.1 L1123.6,466.9 L1124.4,474.3 L1125.9,476.1 L1126.5,464.1 L1127.7,465.8 L1128.3,472.2 L1129.6,466.1 L1130.6,474.5 L1131.7,472.4 L1132.4,476.1 L1133.3,467.6 L1134.6,463.6 L1135.4,466.1 L1136.3,474.8 L1137.3,468.2 L1138.6,474.0 L1139.5,466.0 L1140.6,473.2 L1141.6,468.0 L1142.3,465.8 L1143.7,467.2 L1144.7,472.2 L1145.7,467.3 L1146.6,473.7 L1147.5,468.2 L1148.4,473.2 L1149.7,466.4 L1150.5,473.3 L1151.5,471.2 L1152.1,474.6 L1153.6,470.9 L1154.6,472.4 L1155.5,466.7 L1156.5,474.4 L1157.6,468.1 L1158.5,474.1 L1159.4,466.2 L1160.7,473.4 L1161.6,467.3 L1162.6,469.6 L1163.1,465.1 L1164.3,469.2 L1165.7,465.9 L1166.7,473.5 L1167.4,472.5 L1168.5,477.2 L1169.3,472.2 L1170.5,474.0 L1171.6,468.0 L1172.4,475.4 L1173.6,468.5 L1174.7,473.9 L1175.4,466.0 L1176.2,464.1 L1177.5,466.5 L1178.4,474.0 L1179.4,467.7 L1180.5,471.8 L1181.7,471.4 L1182.8,474.6 L1183.3,472.0 L1184.3,473.2 L1185.7,468.4 L1186.5,471.8 L1187.5,468.9 L1188.2,468.0 L1189.6,468.8 L1190.5,471.4 L1191.5,468.3 L1192.4,472.3 L1193.6,471.4 L1194.8,473.9 L1195.4,471.3 L1196.5,472.1 L1197.6,468.8 L1198.4,472.8 L1199.4,469.3 L1200.4,471.7 L1201.5,468.0 L1202.6,469.6 L1203.5,467.3 L1204.5,469.7 L1205.5,467.9 L1206.3,471.8 L1207.5,468.2 L1208.4,472.8 L1209.4,471.3 L1210.1,473.2 L1211.3,470.8 L1212.4,471.3 L1213.5,468.1 L1214.5,472.3 L1215.3,468.4 L1216.7,467.3 L1217.4,468.2 L1218.5,472.4 L1219.7,469.3 L1220.7,472.4 L1221.7,468.7 L1222.5,472.1 L1223.2,472.8 L1224.6,472.2 L1225.4,468.4 L1226.7,471.4 L1227.3,467.9 L1228.6,472.0 L1229.4,468.4 L1230.4,469.3 L1232.0,466.2 L1232.7,469.0 L1233.4,467.3 L1234.7,472.4 L1235.4,468.5 L1236.4,471.6 L1237.4,467.7 L1238.7,471.3 L1239.3,468.1 L1240.6,472.2 L1241.4,468.8 L1242.9,468.0 L1243.6,468.6 L1244.4,471.8 L1245.5,468.4 L1246.4,472.2 L1247.5,467.9 L1248.3,472.8 L1249.5,474.3 L1250.5,473.0 L1251.4,467.6 L1252.3,469.1 L1253.9,465.8 L1254.3,469.1 L1255.4,468.5 L1256.3,472.2 L1257.5,467.7 L1258.5,471.3 L1259.5,470.3 L1260.0,472.4 L1261.4,470.8 L1262.6,472.1 L1263.4,468.4 L1264.4,472.1 L1265.5,469.2 L1266.4,472.2 L1267.6,468.9 L1268.3,471.5 L1269.4,467.4 L1270.5,471.8 L1271.4,469.3 L1272.6,472.3 L1273.4,468.5 L1274.5,472.3 L1275.5,468.3 L1276.6,472.4 L1277.4,468.7 L1278.6,472.5 L1279.7,468.0 L1280.4,472.0 L1281.4,468.2 L1282.6,472.3 L1283.4,468.6 L1284.4,472.2 L1285.3,469.0 L1286.5,472.4 L1287.7,469.3 L1288.7,472.1 L1289.5,468.4 L1290.5,472.0 L1291.7,468.4 L1292.6,472.4 L1293.7,468.1 L1294.6,471.5 L1295.6,468.0 L1296.6,472.5 L1297.4,469.0 L1298.4,472.6 L1299.3,468.5 L1300.7,472.2 L1301.7,468.8 L1302.5,473.0 L1303.4,469.0 L1304.3,472.8 L1305.5,468.2 L1306.5,472.4 L1307.4,468.6 L1308.3,473.0 L1309.6,468.3 L1310.6,472.0 L1311.3,468.5 L1312.4,472.9 L1313.4,468.7 L1314.5,472.3 L1315.5,467.9 L1316.5,472.2 L1317.6,468.6 L1318.5,472.9 L1319.4,468.6 L1320.6,472.0 L1321.6,468.4 L1322.7,472.6 L1323.4,469.1 L1324.4,472.7 L1325.5,468.1 L1326.7,471.3 L1327.5,468.1 L1328.5,472.5 L1329.4,468.5 L1330.7,472.3 L1331.4,468.4 L1332.5,472.6 L1333.6,468.5 L1334.6,472.4 L1335.6,467.9 L1336.5,471.7 L1337.4,467.9 L1338.7,472.9 L1339.5,469.1 L1340.4,472.9 L1341.4,468.4 L1342.6,472.3 L1343.6,469.2 L1344.5,472.9 L1345.5,469.2 L1346.6,472.4 L1347.7,468.6 L1348.5,472.2 L1349.6,469.3 L1350.7,472.1 L1351.6,468.4 L1352.5,471.7 L1353.4,468.8 L1354.6,472.8 L1355.6,469.7 L1356.7,472.6 L1357.4,468.8 L1358.3,472.2 L1359.6,468.9 L1360.6,472.4 L1361.3,468.7 L1362.5,471.5 L1363.4,468.4 L1364.7,471.8 L1365.4,468.8 L1366.3,472.0 L1367.6,468.7 L1368.4,471.8 L1369.5,468.9 L1370.4,472.6 L1371.4,468.9 L1372.4,471.7 L1373.4,468.0 L1374.5,472.2 L1375.4,469.6 L1376.6,472.1 L1377.7,468.4 L1378.5,471.1 L1379.3,468.5 L1380.7,472.8 L1381.4,468.7 L1382.4,472.2 L1383.5,468.0 L1384.5,472.5 L1385.4,468.9 L1386.5,472.7 L1387.6,468.8 L1388.5,471.6 L1389.4,468.1 L1390.5,472.6 L1391.5,469.1 L1392.4,472.7 L1393.5,468.7 L1394.5,472.2 L1395.5,468.3 L1396.6,472.5 L1397.6,468.3 L1398.6,471.8 L1399.4,468.1 L1400.7,472.0 L1401.3,468.6 L1402.6,472.0 L1403.5,468.1 L1404.5,471.1 L1405.6,468.7 L1406.6,472.7 L1407.7,469.3 L1408.7,471.8 L1409.3,468.5 L1410.5,472.2 L1411.6,469.6 L1412.3,472.7 L1413.5,468.9 L1414.7,472.1 L1415.4,468.8 L1416.3,472.5 L1417.4,469.3 L1418.4,472.4 L1419.4,468.8 L1420.5,472.3 L1421.6,469.6 L1422.5,472.6 L1423.5,469.3 L1424.3,471.8 L1425.3,468.3 L1426.7,472.0 L1427.4,469.3 L1428.7,472.6 L1429.4,468.9 L1430.6,471.7 L1431.6,468.9 L1432.3,472.6 L1433.3,469.3 L1434.5,472.3 L1435.4,468.2 L1436.4,471.7 L1437.4,468.9 L1438.4,472.4 L1439.5,468.5 L1440.4,471.1 L1441.4,468.3 L1442.5,472.0 L1443.6,469.3 L1444.3,471.8 L1445.7,468.6 L1446.5,471.7 L1447.7,469.0 L1448.3,472.4 L1449.3,469.1 L1450.3,471.2 L1451.7,468.4 L1452.5,471.6 L1453.6,468.9 L1454.6,472.2 L1455.3,468.6 L1456.4,471.3 L1457.4,468.5 L1458.5,471.8 L1459.6,469.1 L1460.3,471.9 L1461.7,468.3 L1462.5,471.9 L1463.4,468.9 L1464.6,472.5 L1465.4,469.0 L1466.6,472.1 L1467.5,468.8 L1468.5,472.4 L1469.4,469.5 L1470.4,472.5 L1471.6,468.8 L1472.5,472.5 L1473.5,469.5 L1474.6,472.5 L1475.7,469.2 L1476.4,471.8 L1477.7,468.6 L1478.3,472.0 L1479.5,469.5 L1480.4,471.7 L1481.4,468.5 L1482.5,471.2 L1483.5,469.0 L1484.5,472.0 L1485.6,469.5 L1486.7,471.8 L1487.4,468.6 L1488.4,471.1 L1489.5,468.9 L1490.5,471.9 L1491.4,468.6 L1492.5,471.2 L1493.6,468.8 L1494.7,472.0 L1495.7,469.7 L1496.6,471.5 L1497.4,468.4 L1498.7,471.2 L1499.6,468.5 L1500.4,471.9 L1501.7,468.8 L1502.4,471.5 L1503.6,468.6 L1504.6,472.1 L1505.7,469.2 L1506.6,472.4 L1507.7,468.9 L1508.3,472.1 L1509.3,468.6 L1510.5,471.5"/>
<rect class="ax" x="369.5" y="340.4" width="1141.0" height="260.0"/>
<line class="tk" x1="369.5" y1="366.4" x2="382.5" y2="366.4"/>
<text transform="translate(347.5 380.8) scale(0.985 1)" text-anchor="end">0.2</text>
<text transform="translate(347.5 484.8) scale(0.985 1)" text-anchor="end">0.0</text>
<line class="tk" x1="369.5" y1="574.4" x2="382.5" y2="574.4"/>
<text transform="translate(347.5 588.8) scale(0.985 1)" text-anchor="end">−0.2</text>
<line x1="1174.0" y1="386.1" x2="1275.7" y2="386.1" stroke="#3a6db5" stroke-width="3.05"/>
<text x="1296.5" y="403.1"><tspan class="cj">高频分量</tspan></text>
</g>
<g>
<path class="w" d="M369.5,782.9 L371.0,782.9 L372.5,782.9 L374.0,782.9 L375.5,782.9 L377.0,782.9 L378.5,782.9 L380.0,782.9 L381.5,782.9 L383.0,782.9 L384.5,782.9 L386.0,782.9 L387.5,782.9 L389.0,782.9 L390.5,782.9 L392.0,782.9 L393.5,782.9 L395.0,782.9 L396.5,782.9 L398.0,782.9 L399.5,782.9 L401.0,782.9 L402.5,782.9 L404.0,782.9 L405.5,782.9 L407.0,782.9 L408.5,782.9 L410.0,782.9 L411.5,782.8 L413.0,782.8 L414.5,782.8 L416.0,782.8 L417.5,782.8 L419.0,782.8 L420.5,782.7 L422.0,782.7 L423.5,782.7 L425.0,782.7 L426.5,782.7 L428.0,782.7 L429.5,782.7 L431.0,782.6 L432.5,782.6 L434.0,782.6 L435.5,782.6 L437.0,782.6 L438.5,782.6 L440.0,782.6 L441.5,782.6 L443.0,782.6 L444.5,782.6 L446.0,782.7 L447.5,782.7 L449.0,782.7 L450.5,782.8 L452.0,782.8 L453.5,782.9 L455.0,782.9 L456.5,782.9 L458.0,783.0 L459.5,783.0 L461.0,783.1 L462.5,783.1 L464.0,783.1 L465.5,783.2 L467.0,783.2 L468.5,783.2 L470.0,783.2 L471.5,783.2 L473.0,783.2 L474.5,783.2 L476.0,783.2 L477.5,783.2 L479.0,783.2 L480.5,783.2 L482.0,783.2 L483.5,783.1 L485.0,783.1 L486.5,783.1 L488.0,783.1 L489.5,783.1 L491.0,783.1 L492.5,783.0 L494.0,783.0 L495.5,783.0 L497.0,783.0 L498.5,782.9 L500.0,782.9 L501.5,782.8 L503.0,782.6 L504.5,782.4 L506.0,782.1 L507.5,781.9 L509.0,781.6 L510.5,781.4 L512.0,781.4 L513.5,782.0 L515.0,783.5 L516.5,783.7 L518.0,783.7 L519.5,783.6 L521.0,783.6 L522.5,783.5 L524.0,783.5 L525.5,783.4 L527.0,783.3 L528.5,783.3 L530.0,783.2 L531.5,783.1 L533.0,783.0 L534.5,782.9 L536.0,782.8 L537.5,782.7 L539.0,782.7 L540.5,782.6 L542.0,782.5 L543.5,782.4 L545.0,782.4 L546.5,782.3 L548.0,782.2 L549.5,782.2 L551.0,782.2 L552.5,782.1 L554.0,782.1 L555.5,782.2 L557.0,782.4 L558.5,782.6 L560.0,782.9 L561.5,783.3 L563.0,783.5 L564.5,783.7 L566.0,783.6 L567.5,783.4 L569.0,782.9 L570.5,782.5 L572.0,782.2 L573.5,782.1 L575.0,782.4 L576.5,782.9 L578.0,783.5 L579.5,783.9 L581.0,784.0 L582.5,783.5 L584.0,782.6 L585.5,781.7 L587.0,781.3 L588.5,781.7 L590.0,782.3 L591.5,783.0 L593.0,783.4 L594.5,783.3 L596.0,783.2 L597.5,783.0 L599.0,782.8 L600.5,782.6 L602.0,782.4 L603.5,782.2 L605.0,782.1 L606.5,782.2 L608.0,782.5 L609.5,782.9 L611.0,783.5 L612.5,784.1 L614.0,784.6 L615.5,784.9 L617.0,784.9 L618.5,784.6 L620.0,784.0 L621.5,783.3 L623.0,782.7 L624.5,782.3 L626.0,782.1 L627.5,782.5 L629.0,783.4 L630.5,784.4 L632.0,785.3 L633.5,785.9 L635.0,786.0 L636.5,785.8 L638.0,785.4 L639.5,784.9 L641.0,784.4 L642.5,783.8 L644.0,783.1 L645.5,782.2 L647.0,781.3 L648.5,780.5 L650.0,780.3 L651.5,780.5 L653.0,781.0 L654.5,781.6 L656.0,782.3 L657.5,782.9 L659.0,783.3 L660.5,783.3 L662.0,782.3 L663.5,781.1 L665.0,780.5 L666.5,780.2 L668.0,780.0 L669.5,779.8 L671.0,779.6 L672.5,779.5 L674.0,779.4 L675.5,779.3 L677.0,779.3 L678.5,780.2 L680.0,782.2 L681.5,784.7 L683.0,786.9 L684.5,788.0 L686.0,787.3 L687.5,784.9 L689.0,781.7 L690.5,778.4 L692.0,776.0 L693.5,775.2 L695.0,777.5 L696.5,782.0 L698.0,786.3 L699.5,788.3 L701.0,787.7 L702.5,786.0 L704.0,784.0 L705.5,782.2 L707.0,781.1 L708.5,780.3 L710.0,779.6 L711.5,779.0 L713.0,778.7 L714.5,779.2 L716.0,781.0 L717.5,782.7 L719.0,782.7 L720.5,781.9 L722.0,780.8 L723.5,780.0 L725.0,780.2 L726.5,783.5 L728.0,787.8 L729.5,790.6 L731.0,790.5 L732.5,789.9 L734.0,788.8 L735.5,787.4 L737.0,785.8 L738.5,783.9 L740.0,782.0 L741.5,778.4 L743.0,775.6 L744.5,775.0 L746.0,774.7 L747.5,775.0 L749.0,778.0 L750.5,782.1 L752.0,789.2 L753.5,796.2 L755.0,798.4 L756.5,797.6 L758.0,795.9 L759.5,793.5 L761.0,790.6 L762.5,787.4 L764.0,780.7 L765.5,773.5 L767.0,772.2 L768.5,773.1 L770.0,774.1 L771.5,773.8 L773.0,770.6 L774.5,770.7 L776.0,771.6 L777.5,773.0 L779.0,774.8 L780.5,778.8 L782.0,783.7 L783.5,787.1 L785.0,790.1 L786.5,791.4 L788.0,790.4 L789.5,788.3 L791.0,786.4 L792.5,786.0 L794.0,786.3 L795.5,786.7 L797.0,787.1 L798.5,787.5 L800.0,787.5 L801.5,786.9 L803.0,785.7 L804.5,784.4 L806.0,783.3 L807.5,782.9 L809.0,782.9 L810.5,782.9 L812.0,782.9 L813.5,782.9 L815.0,783.1 L816.5,783.9 L818.0,785.0 L819.5,788.0 L821.0,794.2 L822.5,798.8 L824.0,799.2 L825.5,799.0 L827.0,798.4 L828.5,796.6 L830.0,793.7 L831.5,790.2 L833.0,786.2 L834.5,780.1 L836.0,776.3 L837.5,773.6 L839.0,771.4 L840.5,770.0 L842.0,769.8 L843.5,771.0 L845.0,773.3 L846.5,776.3 L848.0,779.4 L849.5,784.5 L851.0,787.5 L852.5,784.1 L854.0,777.9 L855.5,774.4 L857.0,775.7 L858.5,779.0 L860.0,783.1 L861.5,787.8 L863.0,794.3 L864.5,800.6 L866.0,804.8 L867.5,804.5 L869.0,798.2 L870.5,789.5 L872.0,782.3 L873.5,779.3 L875.0,777.7 L876.5,778.4 L878.0,783.1 L879.5,783.9 L881.0,779.2 L882.5,773.0 L884.0,769.1 L885.5,770.4 L887.0,773.3 L888.5,768.5 L890.0,759.6 L891.5,761.7 L893.0,766.9 L894.5,773.2 L896.0,784.0 L897.5,791.4 L899.0,790.9 L900.5,789.3 L902.0,783.5 L903.5,780.8 L905.0,779.2 L906.5,778.3 L908.0,778.3 L909.5,778.9 L911.0,779.8 L912.5,782.5 L914.0,782.0 L915.5,779.5 L917.0,777.9 L918.5,776.8 L920.0,776.1 L921.5,775.9 L923.0,776.5 L924.5,777.7 L926.0,781.6 L927.5,784.0 L929.0,781.1 L930.5,780.1 L932.0,783.0 L933.5,785.9 L935.0,787.1 L936.5,787.4 L938.0,784.3 L939.5,780.3 L941.0,778.2 L942.5,779.1 L944.0,781.1 L945.5,770.8 L947.0,769.1 L948.5,772.2 L950.0,778.3 L951.5,778.9 L953.0,779.2 L954.5,779.8 L956.0,783.3 L957.5,788.1 L959.0,790.5 L960.5,792.3 L962.0,794.1 L963.5,796.6 L965.0,799.3 L966.5,800.4 L968.0,798.7 L969.5,795.7 L971.0,792.4 L972.5,788.1 L974.0,784.1 L975.5,782.4 L977.0,783.6 L978.5,786.0 L980.0,788.6 L981.5,791.6 L983.0,795.0 L984.5,798.4 L986.0,801.6 L987.5,805.4 L989.0,808.0 L990.5,806.8 L992.0,802.3 L993.5,798.4 L995.0,795.1 L996.5,795.0 L998.0,796.1 L999.5,795.6 L1001.0,794.8 L1002.5,794.7 L1004.0,795.6 L1005.5,796.4 L1007.0,795.5 L1008.5,792.9 L1010.0,789.4 L1011.5,784.2 L1013.0,779.0 L1014.5,772.6 L1016.0,767.1 L1017.5,765.9 L1019.0,766.3 L1020.5,766.6 L1022.0,766.0 L1023.5,765.4 L1025.0,765.9 L1026.5,767.2 L1028.0,769.3 L1029.5,771.0 L1031.0,771.1 L1032.5,771.1 L1034.0,771.2 L1035.5,771.3 L1037.0,772.5 L1038.5,773.8 L1040.0,773.9 L1041.5,773.0 L1043.0,772.2 L1044.5,772.8 L1046.0,777.3 L1047.5,780.9 L1049.0,783.5 L1050.5,785.1 L1052.0,785.4 L1053.5,785.5 L1055.0,785.2 L1056.5,783.9 L1058.0,782.1 L1059.5,779.8 L1061.0,776.5 L1062.5,773.2 L1064.0,771.0 L1065.5,769.3 L1067.0,769.0 L1068.5,769.8 L1070.0,771.0 L1071.5,773.7 L1073.0,778.1 L1074.5,782.5 L1076.0,787.3 L1077.5,790.9 L1079.0,791.9 L1080.5,792.1 L1082.0,789.1 L1083.5,788.5 L1085.0,789.4 L1086.5,790.6 L1088.0,792.3 L1089.5,794.6 L1091.0,796.7 L1092.5,798.5 L1094.0,800.2 L1095.5,800.8 L1097.0,801.0 L1098.5,800.9 L1100.0,797.4 L1101.5,794.3 L1103.0,793.1 L1104.5,792.2 L1106.0,791.4 L1107.5,790.8 L1109.0,790.3 L1110.5,789.8 L1112.0,789.4 L1113.5,788.9 L1115.0,788.5 L1116.5,788.1 L1118.0,787.2 L1119.5,785.0 L1121.0,782.0 L1122.5,779.4 L1124.0,776.8 L1125.5,774.9 L1127.0,774.7 L1128.5,774.7 L1130.0,775.0 L1131.5,776.9 L1133.0,778.9 L1134.5,779.2 L1136.0,778.1 L1137.5,776.6 L1139.0,775.7 L1140.5,775.1 L1142.0,774.7 L1143.5,774.8 L1145.0,775.5 L1146.5,776.3 L1148.0,777.5 L1149.5,779.2 L1151.0,780.9 L1152.5,781.7 L1154.0,782.2 L1155.5,782.4 L1157.0,782.0 L1158.5,780.8 L1160.0,779.6 L1161.5,778.9 L1163.0,778.4 L1164.5,778.1 L1166.0,777.8 L1167.5,777.8 L1169.0,777.8 L1170.5,777.8 L1172.0,777.8 L1173.5,777.8 L1175.0,778.0 L1176.5,779.2 L1178.0,781.0 L1179.5,782.7 L1181.0,784.1 L1182.5,785.6 L1184.0,786.9 L1185.5,787.7 L1187.0,788.4 L1188.5,788.9 L1190.0,789.1 L1191.5,788.2 L1193.0,786.5 L1194.5,784.9 L1196.0,784.1 L1197.5,783.4 L1199.0,783.0 L1200.5,783.0 L1202.0,783.9 L1203.5,785.0 L1205.0,786.4 L1206.5,787.9 L1208.0,788.3 L1209.5,787.2 L1211.0,785.4 L1212.5,784.1 L1214.0,784.3 L1215.5,785.9 L1217.0,787.7 L1218.5,788.9 L1220.0,790.1 L1221.5,791.0 L1223.0,791.1 L1224.5,790.4 L1226.0,789.3 L1227.5,787.9 L1229.0,785.9 L1230.5,783.7 L1232.0,781.8 L1233.5,780.2 L1235.0,778.6 L1236.5,777.2 L1238.0,776.0 L1239.5,774.7 L1241.0,773.7 L1242.5,773.8 L1244.0,775.0 L1245.5,776.5 L1247.0,778.2 L1248.5,780.1 L1250.0,781.3 L1251.5,781.2 L1253.0,780.8 L1254.5,780.4 L1256.0,780.3 L1257.5,780.9 L1259.0,782.2 L1260.5,783.8 L1262.0,785.4 L1263.5,787.5 L1265.0,788.3 L1266.5,787.7 L1268.0,787.1 L1269.5,787.3 L1271.0,787.7 L1272.5,788.0 L1274.0,787.4 L1275.5,785.3 L1277.0,783.3 L1278.5,781.7 L1280.0,780.2 L1281.5,779.4 L1283.0,779.1 L1284.5,779.1 L1286.0,780.4 L1287.5,781.9 L1289.0,782.2 L1290.5,782.1 L1292.0,782.1 L1293.5,781.9 L1295.0,781.8 L1296.5,781.6 L1298.0,781.3 L1299.5,781.0 L1301.0,780.3 L1302.5,779.3 L1304.0,778.5 L1305.5,778.4 L1307.0,778.7 L1308.5,779.3 L1310.0,780.1 L1311.5,781.5 L1313.0,783.0 L1314.5,784.1 L1316.0,785.1 L1317.5,786.0 L1319.0,786.5 L1320.5,786.6 L1322.0,786.5 L1323.5,786.4 L1325.0,786.2 L1326.5,785.9 L1328.0,785.3 L1329.5,784.7 L1331.0,784.3 L1332.5,784.2 L1334.0,784.0 L1335.5,784.3 L1337.0,785.1 L1338.5,785.8 L1340.0,785.4 L1341.5,783.9 L1343.0,782.3 L1344.5,781.5 L1346.0,781.6 L1347.5,782.1 L1349.0,782.5 L1350.5,782.9 L1352.0,783.0 L1353.5,781.9 L1355.0,780.4 L1356.5,779.5 L1358.0,779.5 L1359.5,779.5 L1361.0,779.5 L1362.5,779.9 L1364.0,780.7 L1365.5,781.3 L1367.0,781.7 L1368.5,781.9 L1370.0,781.6 L1371.5,781.0 L1373.0,781.1 L1374.5,782.5 L1376.0,784.3 L1377.5,785.4 L1379.0,786.4 L1380.5,787.3 L1382.0,787.9 L1383.5,788.5 L1385.0,789.0 L1386.5,789.3 L1388.0,789.4 L1389.5,788.4 L1391.0,786.3 L1392.5,784.2 L1394.0,782.7 L1395.5,781.4 L1397.0,780.5 L1398.5,780.3 L1400.0,780.1 L1401.5,780.0 L1403.0,779.8 L1404.5,779.6 L1406.0,779.2 L1407.5,778.8 L1409.0,778.6 L1410.5,779.0 L1412.0,779.9 L1413.5,781.0 L1415.0,782.6 L1416.5,784.2 L1418.0,785.5 L1419.5,786.5 L1421.0,786.9 L1422.5,786.3 L1424.0,785.3 L1425.5,784.4 L1427.0,783.4 L1428.5,782.4 L1430.0,781.9 L1431.5,781.7 L1433.0,781.6 L1434.5,781.5 L1436.0,781.5 L1437.5,782.3 L1439.0,783.5 L1440.5,784.7 L1442.0,785.2 L1443.5,785.2 L1445.0,785.2 L1446.5,785.2 L1448.0,784.9 L1449.5,784.4 L1451.0,784.0 L1452.5,784.2 L1454.0,784.7 L1455.5,785.1 L1457.0,785.0 L1458.5,784.0 L1460.0,782.8 L1461.5,782.0 L1463.0,781.9 L1464.5,781.9 L1466.0,781.9 L1467.5,782.0 L1469.0,783.0 L1470.5,784.4 L1472.0,785.4 L1473.5,785.2 L1475.0,784.2 L1476.5,782.7 L1478.0,781.6 L1479.5,781.1 L1481.0,781.0 L1482.5,780.8 L1484.0,780.8 L1485.5,780.9 L1487.0,781.4 L1488.5,782.3 L1490.0,783.2 L1491.5,783.9 L1493.0,784.8 L1494.5,785.7 L1496.0,786.3 L1497.5,786.6 L1499.0,785.9 L1500.5,784.7 L1502.0,784.0 L1503.5,783.8 L1505.0,783.6 L1506.5,783.5 L1508.0,783.2 L1510.5,782.3"/>
<rect class="ax" x="369.5" y="653.0" width="1141.0" height="260.0"/>
<line class="tk" x1="369.5" y1="678.9" x2="382.5" y2="678.9"/>
<text transform="translate(347.5 693.3) scale(0.985 1)" text-anchor="end">0.2</text>
<text transform="translate(347.5 797.3) scale(0.985 1)" text-anchor="end">0.0</text>
<line class="tk" x1="369.5" y1="886.9" x2="382.5" y2="886.9"/>
<text transform="translate(347.5 901.3) scale(0.985 1)" text-anchor="end">−0.2</text>
<line x1="1174.0" y1="698.7" x2="1275.7" y2="698.7" stroke="#3a6db5" stroke-width="3.05"/>
<text x="1296.5" y="715.7"><tspan class="cj">低频分量</tspan></text>
</g>
<text transform="translate(369.5 976.3) scale(0.955 1)" text-anchor="middle">0</text>
<line class="tk" x1="532.5" y1="913" x2="532.5" y2="900.5"/>
<text transform="translate(532.5 976.3) scale(0.955 1)" text-anchor="middle">10</text>
<line class="tk" x1="695.5" y1="913" x2="695.5" y2="900.5"/>
<text transform="translate(695.5 976.3) scale(0.955 1)" text-anchor="middle">20</text>
<line class="tk" x1="858.5" y1="913" x2="858.5" y2="900.5"/>
<text transform="translate(858.5 976.3) scale(0.955 1)" text-anchor="middle">30</text>
<line class="tk" x1="1021.5" y1="913" x2="1021.5" y2="900.5"/>
<text transform="translate(1021.5 976.3) scale(0.955 1)" text-anchor="middle">40</text>
<line class="tk" x1="1184.5" y1="913" x2="1184.5" y2="900.5"/>
<text transform="translate(1184.5 976.3) scale(0.955 1)" text-anchor="middle">50</text>
<line class="tk" x1="1347.5" y1="913" x2="1347.5" y2="900.5"/>
<text transform="translate(1347.5 976.3) scale(0.955 1)" text-anchor="middle">60</text>
<text transform="translate(1510.5 976.3) scale(0.955 1)" text-anchor="middle">70</text>
<text x="940.5" y="1038" text-anchor="middle"><tspan class="cj">时间</tspan>/s</text>
<text class="cap" x="939.8" y="1102" text-anchor="middle">(a) Chi-Chi<tspan class="cj">地震的高频和低频分量</tspan></text>
<text transform="translate(224,470) rotate(-90)" text-anchor="middle"><tspan class="cj">加速度</tspan>/<tspan font-style="italic">g</tspan></text>
<g>
<path class="c" stroke="#df2329" d="M1803.2,631.4 L1805.5,622.0 L1807.3,612.0 L1809.0,592.8 L1810.3,565.0 L1811.4,545.8 L1812.1,562.0 L1812.6,580.8 L1813.4,560.0 L1814.2,480.0 L1815.0,400.0 L1815.8,327.0 L1816.6,350.0 L1817.5,378.0 L1818.3,362.0 L1819.0,351.0 L1819.9,385.0 L1821.2,433.0 L1822.4,380.0 L1822.9,320.0 L1824.0,230.0 L1825.2,170.0 L1826.2,143.0 L1827.1,180.0 L1827.9,225.0 L1831.0,318.0 L1832.2,385.0 L1832.9,425.0 L1834.3,395.0 L1835.5,373.0 L1837.0,420.0 L1839.9,498.5 L1842.0,436.0 L1843.4,390.0 L1844.5,358.5 L1846.2,380.0 L1848.4,411.0 L1850.1,330.0 L1851.3,240.0 L1852.4,170.0 L1853.5,140.5 L1854.8,170.0 L1856.8,225.0 L1858.0,240.0 L1860.1,231.0 L1861.6,275.0 L1863.3,324.0 L1865.4,313.0 L1868.3,325.0 L1870.0,295.0 L1872.0,268.5 L1876.0,276.0 L1879.0,269.5 L1880.6,290.0 L1882.0,310.0 L1886.5,360.0 L1891.0,405.0 L1896.0,450.0 L1901.7,497.0 L1905.0,535.0 L1907.3,568.0 L1908.6,579.0 L1910.4,577.0 L1912.3,575.2 L1915.6,588.0 L1918.9,609.2 L1923.0,619.0 L1926.3,632.2 L1928.8,640.4 L1934.5,638.0 L1939.4,640.4 L1942.7,636.3 L1945.2,647.0 L1947.6,661.8 L1950.9,674.9 L1956.7,668.3 L1962.4,672.4 L1967.3,684.7 L1973.1,697.8 L1978.0,694.6 L1982.9,704.5 L1988.7,709.5 L1994.4,716.6 L1999.3,718.3 L2003.4,710.9 L2010.0,706.8 L2014.9,715.8 L2019.8,732.2 L2023.9,742.9 L2028.0,732.2 L2033.0,726.5 L2037.0,723.2 L2039.5,709.2 L2042.8,698.6 L2046.9,692.0 L2052.7,696.9 L2056.0,691.2 L2061.7,678.9 L2064.7,676.5 L2067.4,675.6 L2067.7,675.6 L2070.7,676.1 L2073.7,677.1 L2074.0,677.2 L2076.7,678.5 L2079.7,680.7 L2082.7,683.2 L2085.7,685.9 L2087.1,687.1 L2088.7,688.5 L2091.7,691.2 L2094.7,694.1 L2097.7,696.9 L2098.6,697.7 L2100.7,699.8 L2103.7,703.1 L2106.7,705.5 L2108.5,706.0 L2109.7,705.2 L2112.7,699.7 L2114.2,697.7 L2115.7,696.7 L2117.5,696.1 L2118.7,696.4 L2121.7,699.2 L2123.2,701.0 L2124.7,703.0 L2127.7,708.2 L2128.2,709.2 L2130.7,715.9 L2133.1,721.5 L2133.7,722.3 L2136.7,725.6 L2139.7,727.9 L2141.3,728.9 L2142.7,729.6 L2145.7,730.9 L2148.7,732.0 L2151.7,733.0 L2154.7,734.1 L2156.1,734.7 L2157.7,735.5 L2160.7,737.2 L2163.7,739.0 L2166.7,741.0 L2169.7,743.0 L2170.8,743.7 L2172.7,745.2 L2175.7,747.9 L2178.7,750.2 L2181.5,751.1 L2181.7,751.1 L2184.7,746.4 L2187.3,740.4 L2187.7,739.6 L2190.7,733.6 L2193.7,728.2 L2193.8,728.1 L2196.7,723.9 L2199.7,720.2 L2202.0,718.3 L2202.7,717.9 L2205.7,716.3 L2208.1,715.8 L2208.7,715.9 L2211.7,717.4 L2213.0,718.3 L2214.7,720.1 L2217.7,723.2 L2218.0,723.2 L2220.7,722.5 L2223.7,721.0 L2226.2,720.4 L2226.7,720.4 L2229.7,721.0 L2232.7,722.3 L2235.7,723.8 L2236.0,724.0 L2238.7,725.9 L2241.7,728.9 L2244.7,732.4 L2247.5,735.5 L2247.7,735.7 L2250.7,739.0 L2253.7,742.5 L2256.7,746.0 L2259.7,749.3 L2260.6,750.3 L2262.7,752.6 L2265.7,755.8 L2268.7,758.8 L2271.7,761.5 L2272.1,761.8 L2274.7,763.8 L2277.7,765.9 L2280.7,767.7 L2283.6,769.1 L2283.7,769.1 L2286.7,770.3 L2289.7,771.3 L2292.7,772.1 L2295.1,772.4 L2295.7,772.4 L2298.7,772.6 L2301.7,772.8 L2304.7,772.9 L2306.6,772.9 L2307.7,772.9 L2310.7,772.7 L2313.7,772.4 L2316.7,772.1 L2319.7,771.7 L2322.7,771.2 L2325.7,770.9 L2326.3,770.8 L2328.7,770.5 L2331.7,770.2 L2334.7,769.9 L2337.7,769.6 L2340.7,769.3 L2343.7,768.9 L2346.7,768.7 L2349.7,768.4 L2350.9,768.3 L2352.7,768.2 L2355.7,767.9 L2358.7,767.6 L2361.7,767.4 L2364.7,767.1 L2367.7,766.9 L2370.7,766.8 L2373.7,766.7 L2375.5,766.7 L2376.7,766.7 L2379.7,766.7 L2382.7,766.8 L2385.7,766.8 L2388.7,766.9 L2391.7,767.0 L2391.9,767.0 L2394.7,767.1 L2397.7,767.3 L2400.7,767.5 L2403.7,767.8 L2406.7,768.1 L2408.4,768.3 L2409.7,768.4 L2412.7,768.8 L2415.7,769.3 L2418.7,769.8 L2421.5,770.3 L2421.7,770.3 L2424.7,771.0 L2427.7,771.8 L2430.7,772.3 L2432.2,772.4 L2433.7,772.3 L2436.7,771.2 L2439.7,769.6 L2442.7,767.7 L2445.7,766.1 L2446.1,765.9 L2448.7,764.8 L2451.7,763.5 L2454.7,762.3 L2457.7,761.2 L2460.7,760.2 L2460.9,760.1 L2463.7,759.2 L2466.7,758.3 L2469.7,757.5 L2472.7,756.8 L2474.0,756.5 L2475.7,756.2 L2478.7,755.6 L2481.7,755.1 L2484.7,754.6 L2487.7,754.2 L2490.4,753.9 L2490.7,753.9 L2493.7,753.5 L2496.7,753.2 L2499.7,753.0 L2502.7,752.7 L2505.7,752.5 L2508.7,752.3 L2511.7,752.1 L2514.7,751.9 L2515.0,751.9 L2517.7,751.8 L2520.7,751.7 L2523.7,751.6 L2526.7,751.5 L2529.7,751.4 L2532.7,751.3 L2535.7,751.2 L2538.7,751.1 L2539.7,751.1 L2541.7,751.0 L2544.7,750.9 L2547.7,750.8 L2550.7,750.7 L2553.7,750.6 L2556.7,750.5 L2559.7,750.3 L2562.7,750.2 L2565.7,750.1 L2568.7,750.0 L2571.7,749.9 L2572.5,749.9 L2574.7,749.8 L2577.7,749.7 L2580.7,749.6 L2583.7,749.5 L2586.7,749.4 L2589.7,749.3 L2592.7,749.3 L2595.7,749.2 L2598.7,749.2 L2599.6,749.2 L2601.7,749.2 L2604.7,749.3 L2607.7,749.4 L2610.7,749.6 L2613.7,749.8 L2616.7,750.0 L2619.7,750.3 L2622.7,750.5 L2624.2,750.6 L2625.7,750.7 L2628.7,751.0 L2631.7,751.3 L2634.7,751.6 L2637.7,752.0 L2640.7,752.4 L2643.7,752.7 L2646.7,753.1 L2648.9,753.3 L2649.7,753.4 L2652.7,753.7 L2655.7,754.0 L2658.7,754.3 L2661.7,754.6 L2664.7,754.9 L2667.7,755.2 L2670.7,755.5 L2673.5,755.8 L2673.7,755.8 L2676.7,756.1 L2679.7,756.5 L2682.7,756.8 L2685.7,757.1 L2688.7,757.5 L2691.7,757.8 L2694.7,758.2 L2697.7,758.6 L2698.1,758.6 L2700.7,758.9 L2703.7,759.3 L2706.7,759.7 L2709.7,760.1 L2712.7,760.5 L2715.7,760.9 L2718.7,761.4 L2721.7,761.8 L2722.7,762.0 L2724.7,762.4 L2727.7,762.9 L2730.7,763.5 L2733.7,764.2 L2736.7,764.9 L2739.7,765.6 L2742.7,766.3 L2745.7,766.9 L2747.3,767.3 L2748.7,767.6 L2751.7,768.3 L2754.7,768.9 L2757.7,769.6 L2760.7,770.3 L2763.7,771.0 L2766.7,771.7 L2769.7,772.4 L2771.9,773.0 L2772.7,773.2 L2775.7,774.0 L2778.7,774.9 L2781.7,775.7 L2784.7,776.6 L2787.7,777.6 L2790.7,778.5 L2793.7,779.5 L2796.6,780.4 L2796.7,780.4 L2799.7,781.4 L2802.7,782.5 L2805.7,783.6 L2808.7,784.7 L2811.7,785.8 L2813.0,786.2 L2814.7,786.8 L2817.7,787.9 L2820.7,788.9 L2823.7,789.7 L2824.5,789.9 L2826.7,790.3 L2829.7,790.8 L2832.7,791.2 L2835.7,791.5 L2838.7,791.9 L2841.7,792.2 L2844.7,792.6 L2845.8,792.7 L2847.7,793.0 L2850.7,793.3 L2853.7,793.7 L2856.7,794.1 L2859.7,794.5 L2862.7,794.9 L2865.7,795.3 L2868.7,795.7 L2870.4,796.0 L2871.7,796.2 L2874.7,796.7 L2877.7,797.2 L2880.7,797.7 L2883.7,798.3 L2886.7,798.9 L2889.7,799.4 L2892.7,800.0 L2895.0,800.4 L2895.7,800.5 L2898.7,801.1 L2901.7,801.6 L2904.7,802.2 L2907.7,802.7 L2910.7,803.3 L2913.7,803.8 L2916.7,804.4 L2919.7,805.0 L2922.7,805.6 L2925.7,806.2 L2928.7,806.8 L2931.7,807.4 L2934.7,808.1 L2937.7,808.7 L2940.7,809.4 L2943.5,810.0"/>
<path class="c d" stroke="#3049a2" stroke-dashoffset="21.5" d="M1803.2,827.7 L1805.7,826.9 L1808.2,828.2 L1810.7,825.5 L1813.2,821.5 L1815.7,821.7 L1816.3,821.6 L1818.2,818.9 L1820.7,820.6 L1823.2,816.1 L1825.7,816.1 L1828.0,815.1 L1828.2,814.5 L1830.7,812.8 L1833.2,810.5 L1835.7,808.1 L1838.2,800.6 L1838.5,802.0 L1840.7,797.2 L1843.2,787.6 L1845.7,778.9 L1848.2,779.5 L1849.2,775.6 L1850.7,776.7 L1853.2,784.6 L1855.7,788.0 L1857.4,788.8 L1858.2,790.2 L1860.7,785.2 L1863.2,787.6 L1864.0,785.7 L1865.7,786.5 L1868.2,797.6 L1870.7,806.8 L1872.1,804.6 L1873.2,806.7 L1875.7,804.2 L1878.2,804.9 L1880.7,802.5 L1883.2,797.0 L1883.6,799.6 L1885.7,792.5 L1888.2,780.9 L1888.6,779.9 L1890.7,765.8 L1893.2,756.7 L1893.5,757.2 L1895.7,756.4 L1898.0,763.8 L1898.2,761.4 L1900.7,759.5 L1903.2,753.5 L1903.3,756.2 L1905.7,747.7 L1908.2,742.1 L1910.7,733.2 L1911.5,734.2 L1913.2,734.3 L1915.7,738.7 L1918.2,739.7 L1919.7,740.3 L1920.7,742.8 L1923.2,738.9 L1925.7,734.4 L1926.3,736.1 L1928.2,735.8 L1930.7,746.4 L1931.0,743.3 L1933.2,749.6 L1935.7,749.2 L1936.1,749.2 L1938.2,748.1 L1940.7,739.9 L1942.7,735.4 L1943.2,731.0 L1945.7,730.2 L1948.2,726.6 L1949.0,726.4 L1950.7,724.8 L1953.2,725.3 L1955.0,718.8 L1955.7,717.9 L1958.2,708.1 L1960.7,702.8 L1960.8,703.4 L1963.2,709.3 L1965.7,716.2 L1966.0,718.2 L1968.2,720.0 L1970.7,717.1 L1973.0,720.9 L1973.2,719.4 L1975.7,721.1 L1978.2,722.2 L1980.0,722.9 L1980.7,722.6 L1983.2,725.9 L1985.7,726.4 L1986.0,728.0 L1988.2,723.7 L1990.0,721.9 L1990.7,720.7 L1993.2,714.5 L1994.4,708.7 L1995.7,701.7 L1998.2,692.7 L1999.3,688.3 L2000.7,688.3 L2003.2,684.2 L2004.0,683.6 L2005.7,684.0 L2008.2,681.0 L2008.4,680.8 L2010.7,685.7 L2013.2,697.4 L2014.9,703.2 L2015.7,707.2 L2018.2,717.6 L2020.7,721.6 L2023.2,719.8 L2025.7,715.8 L2028.0,712.4 L2028.2,712.1 L2030.7,710.8 L2033.2,709.6 L2035.4,707.5 L2035.7,707.0 L2038.2,693.2 L2039.5,688.0 L2040.7,686.4 L2043.2,684.1 L2044.5,683.8 L2045.7,685.2 L2048.2,690.2 L2048.6,690.4 L2050.7,690.1 L2053.2,689.1 L2055.7,688.1 L2056.0,688.0 L2058.2,687.3 L2060.7,686.4 L2063.2,685.7 L2065.7,685.4 L2065.8,685.4 L2068.2,686.2 L2070.7,688.3 L2073.2,691.6 L2075.7,695.5 L2078.2,699.7 L2080.7,704.0 L2081.4,705.1 L2083.2,708.3 L2085.7,713.5 L2088.2,718.8 L2089.6,721.5 L2090.7,723.7 L2093.2,728.9 L2095.7,732.1 L2096.2,732.2 L2098.2,728.8 L2100.3,722.4 L2100.7,721.3 L2103.2,713.0 L2105.7,705.4 L2106.8,703.5 L2108.2,702.0 L2110.7,699.6 L2113.2,697.9 L2115.7,697.0 L2116.7,696.9 L2118.2,697.4 L2120.7,699.9 L2123.2,703.5 L2124.9,706.0 L2125.7,707.1 L2128.2,711.2 L2130.7,715.9 L2133.2,720.9 L2134.7,724.0 L2135.7,726.1 L2138.2,731.7 L2140.7,737.6 L2142.9,742.9 L2143.2,743.6 L2145.7,750.1 L2148.2,756.4 L2149.5,759.3 L2150.7,761.8 L2153.2,766.8 L2155.7,771.1 L2157.7,773.2 L2158.2,773.6 L2160.7,775.2 L2163.2,776.4 L2165.7,776.9 L2165.9,776.9 L2168.2,776.7 L2170.7,776.2 L2173.2,775.3 L2175.7,774.3 L2178.2,773.0 L2180.7,771.6 L2183.2,769.4 L2185.7,765.9 L2188.2,761.8 L2190.7,757.6 L2193.2,753.8 L2195.5,751.1 L2195.7,750.9 L2198.2,748.5 L2200.7,746.2 L2203.2,744.1 L2205.7,742.4 L2208.2,741.4 L2209.8,741.2 L2210.7,741.4 L2213.2,742.5 L2214.7,742.9 L2215.7,742.7 L2218.2,741.2 L2220.7,738.5 L2223.2,735.4 L2225.7,732.6 L2228.2,730.9 L2229.5,730.6 L2230.7,730.6 L2233.2,730.9 L2235.7,731.4 L2238.2,732.0 L2240.7,732.8 L2243.2,733.7 L2245.7,734.6 L2245.9,734.7 L2248.2,735.8 L2250.7,737.5 L2253.2,739.5 L2255.7,741.9 L2258.2,744.4 L2260.7,747.0 L2263.2,749.6 L2265.6,751.9 L2265.7,752.0 L2268.2,754.5 L2270.7,757.2 L2273.2,759.8 L2275.7,762.2 L2277.1,763.4 L2278.2,764.3 L2280.7,766.2 L2283.2,768.1 L2285.7,770.0 L2288.2,771.7 L2290.7,773.2 L2293.2,774.6 L2295.7,775.7 L2298.2,776.5 L2298.4,776.5 L2300.7,777.0 L2303.2,777.6 L2305.7,778.1 L2308.2,778.5 L2310.7,778.8 L2313.2,779.0 L2314.8,779.0 L2315.7,779.0 L2318.2,778.9 L2320.7,778.6 L2323.2,778.2 L2325.7,777.7 L2328.2,777.1 L2330.7,776.5 L2333.2,775.8 L2335.7,775.1 L2338.2,774.4 L2339.4,774.1 L2340.7,773.7 L2343.2,772.9 L2345.7,771.9 L2348.2,770.8 L2350.7,769.8 L2353.2,768.7 L2354.2,768.3 L2355.7,767.7 L2358.2,766.7 L2360.7,765.6 L2363.2,764.5 L2365.7,763.4 L2368.2,762.3 L2370.7,761.3 L2373.2,760.3 L2375.7,759.5 L2378.2,758.7 L2378.8,758.5 L2380.7,758.0 L2383.2,757.3 L2385.7,756.6 L2388.2,756.0 L2390.7,755.5 L2393.2,755.1 L2395.2,754.9 L2395.7,754.9 L2398.2,754.7 L2400.7,754.5 L2403.2,754.3 L2405.7,754.2 L2408.0,754.2 L2408.2,754.2 L2410.7,754.4 L2413.2,754.9 L2415.7,755.5 L2418.2,755.9 L2419.8,756.0 L2420.7,756.0 L2423.2,756.0 L2425.7,755.9 L2428.2,755.8 L2430.7,755.6 L2433.2,755.4 L2435.7,755.2 L2436.3,755.2 L2438.2,754.9 L2440.7,754.2 L2443.2,753.3 L2445.7,752.2 L2448.2,751.0 L2450.7,749.8 L2453.2,748.7 L2455.7,747.8 L2458.2,747.1 L2459.2,747.0 L2460.7,746.8 L2463.2,746.6 L2465.7,746.4 L2468.2,746.2 L2470.7,746.0 L2473.2,745.9 L2475.7,745.8 L2477.3,745.8 L2478.2,745.8 L2480.7,745.9 L2483.2,746.0 L2485.7,746.2 L2488.2,746.4 L2490.7,746.7 L2493.2,747.0 L2495.7,747.2 L2498.2,747.5 L2500.7,747.7 L2501.9,747.8 L2503.2,747.9 L2505.7,748.1 L2508.2,748.3 L2510.7,748.5 L2513.2,748.6 L2514.3,748.6 L2515.7,748.6 L2518.2,748.6 L2520.7,748.6 L2523.2,748.6 L2525.7,748.5 L2528.2,748.5 L2530.7,748.5 L2533.2,748.4 L2535.7,748.4 L2538.2,748.3 L2539.0,748.3 L2540.7,748.3 L2543.2,748.2 L2545.7,748.0 L2548.2,747.9 L2550.7,747.7 L2553.2,747.5 L2555.7,747.3 L2558.2,747.1 L2560.2,747.0 L2560.7,747.0 L2563.2,746.8 L2565.7,746.6 L2568.2,746.4 L2570.7,746.2 L2573.2,746.0 L2575.7,745.8 L2578.2,745.6 L2580.7,745.4 L2583.2,745.2 L2585.7,745.0 L2586.4,745.0 L2588.2,744.9 L2590.7,744.8 L2593.2,744.6 L2595.7,744.5 L2598.2,744.4 L2600.7,744.3 L2602.9,744.3 L2603.2,744.3 L2605.7,744.3 L2608.2,744.3 L2610.7,744.3 L2613.2,744.4 L2615.7,744.4 L2618.2,744.4 L2620.7,744.5 L2623.2,744.5 L2625.7,744.6 L2627.5,744.6 L2628.2,744.6 L2630.7,744.8 L2633.2,745.0 L2635.7,745.4 L2638.2,745.8 L2640.7,746.2 L2643.2,746.6 L2644.8,746.8 L2645.7,746.9 L2648.2,747.3 L2650.7,747.7 L2653.2,748.0 L2655.7,748.4 L2658.2,748.8 L2660.7,749.2 L2663.2,749.7 L2665.7,750.1 L2668.2,750.5 L2670.2,750.9 L2670.7,751.0 L2673.2,751.5 L2675.7,751.9 L2678.2,752.4 L2680.7,753.0 L2683.2,753.5 L2685.7,754.0 L2688.2,754.6 L2690.0,755.0 L2690.7,755.2 L2693.2,755.7 L2695.7,756.4 L2698.2,757.0 L2700.7,757.6 L2703.2,758.3 L2705.7,758.9 L2708.2,759.6 L2710.0,760.0 L2710.7,760.2 L2713.2,760.8 L2715.7,761.4 L2718.2,762.0 L2720.7,762.6 L2723.2,763.2 L2725.7,763.8 L2728.2,764.4 L2730.7,765.0 L2733.2,765.6 L2735.7,766.2 L2738.2,766.8 L2740.7,767.4 L2743.2,768.0 L2745.7,768.7 L2747.0,769.0 L2748.2,769.3 L2750.7,770.0 L2753.2,770.6 L2755.7,771.3 L2758.2,772.0 L2760.7,772.7 L2763.2,773.4 L2765.7,774.1 L2768.2,774.9 L2770.7,775.6 L2772.0,776.0 L2773.2,776.4 L2775.7,777.1 L2778.2,777.9 L2780.7,778.8 L2783.2,779.6 L2785.7,780.4 L2788.2,781.2 L2790.7,782.1 L2793.2,782.9 L2795.7,783.6 L2797.0,784.0 L2798.2,784.3 L2800.7,785.0 L2803.2,785.7 L2805.7,786.4 L2808.0,787.0 L2808.2,787.1 L2810.7,787.8 L2813.2,788.6 L2815.7,789.4 L2818.2,790.3 L2820.7,791.1 L2823.2,791.9 L2825.7,792.7 L2828.2,793.4 L2830.7,794.0 L2832.7,794.4 L2833.2,794.5 L2835.7,794.9 L2838.2,795.3 L2840.7,795.7 L2843.2,796.0 L2845.7,796.4 L2848.2,796.7 L2849.0,796.8 L2850.7,797.0 L2853.2,797.4 L2855.7,797.7 L2858.2,798.1 L2860.7,798.4 L2863.2,798.8 L2865.7,799.1 L2868.2,799.4 L2870.7,799.7 L2873.2,800.0 L2873.7,800.1 L2875.7,800.3 L2878.2,800.6 L2880.7,800.9 L2883.2,801.1 L2885.7,801.4 L2888.2,801.7 L2890.7,802.0 L2893.2,802.3 L2895.0,802.5 L2895.7,802.6 L2898.2,803.0 L2900.7,803.4 L2903.2,803.8 L2905.7,804.3 L2908.2,804.7 L2910.7,805.2 L2913.2,805.7 L2915.7,806.2 L2918.2,806.7 L2919.7,807.0 L2920.7,807.2 L2923.2,807.7 L2925.7,808.2 L2928.2,808.7 L2930.7,809.2 L2933.2,809.8 L2935.7,810.3 L2938.2,810.8 L2940.7,811.4 L2943.2,811.9 L2943.5,812.0"/>
<path class="c d" stroke="#000" stroke-dashoffset="30.2" d="M1803.2,631.4 L1805.5,622.0 L1807.3,612.0 L1809.0,592.8 L1810.3,568.0 L1811.4,552.0 L1812.1,566.0 L1812.6,584.0 L1813.4,562.0 L1814.2,482.0 L1815.0,404.0 L1815.8,334.0 L1816.6,360.0 L1817.5,392.0 L1818.3,376.0 L1819.0,368.0 L1819.6,478.0 L1821.5,400.0 L1822.6,320.0 L1823.8,232.0 L1825.0,172.0 L1826.0,147.0 L1826.9,182.0 L1827.7,228.0 L1830.8,320.0 L1832.0,388.0 L1832.7,432.0 L1834.1,402.0 L1835.3,380.0 L1836.8,426.0 L1839.9,505.0 L1842.0,442.0 L1843.4,396.0 L1844.5,366.0 L1845.8,392.0 L1847.0,436.0 L1849.6,336.0 L1851.0,246.0 L1852.2,176.0 L1853.3,146.0 L1854.6,176.0 L1856.6,230.0 L1858.5,262.0 L1861.6,300.0 L1865.8,320.0 L1869.0,290.0 L1872.7,252.0 L1875.5,263.0 L1880.3,240.0 L1883.0,280.0 L1888.0,347.0 L1890.2,414.0 L1892.6,440.0 L1894.6,457.4 L1896.2,483.0 L1897.3,500.4 L1900.6,526.0 L1902.8,543.6 L1905.0,565.0 L1909.9,601.0 L1913.2,630.6 L1917.3,655.2 L1920.6,675.0 L1923.8,697.0 L1926.3,714.2 L1931.0,730.0 L1934.5,737.1 L1937.8,717.4 L1942.0,704.0 L1946.8,694.5 L1951.0,690.0 L1954.5,694.0 L1957.5,704.3 L1962.4,730.6 L1965.7,748.6 L1969.8,773.2 L1975.5,791.3 L1980.5,814.3 L1985.4,824.0 L1988.4,822.7 L1990.3,821.7 L1991.4,821.0 L1994.4,818.3 L1997.4,814.9 L2000.4,811.2 L2003.4,807.8 L2006.4,804.9 L2008.4,803.6 L2009.4,803.1 L2012.4,801.5 L2015.4,800.5 L2016.6,800.4 L2018.4,800.7 L2021.4,802.2 L2024.4,804.2 L2024.8,804.5 L2027.4,806.6 L2030.4,809.8 L2033.4,813.5 L2036.4,817.4 L2039.4,821.2 L2042.0,824.2 L2042.4,824.6 L2045.4,828.2 L2048.4,831.9 L2051.4,834.9 L2054.3,836.5 L2054.4,836.5 L2057.4,837.2 L2060.4,837.6 L2063.4,838.0 L2066.4,838.2 L2069.4,838.5 L2072.4,838.8 L2075.4,839.2 L2078.4,839.7 L2078.9,839.8 L2081.4,840.6 L2084.4,842.0 L2087.4,843.8 L2090.4,845.5 L2093.4,847.0 L2093.7,847.1 L2096.4,848.2 L2099.4,849.6 L2102.4,850.9 L2105.4,852.2 L2108.4,853.3 L2111.4,854.3 L2114.4,855.0 L2117.4,855.3 L2118.3,855.3 L2120.4,855.2 L2123.4,854.6 L2126.4,853.7 L2129.4,852.7 L2132.4,851.7 L2133.9,851.2 L2135.4,850.7 L2138.4,849.4 L2141.4,848.0 L2144.4,846.9 L2147.4,846.3 L2147.9,846.3 L2150.4,846.4 L2153.4,846.9 L2156.4,847.5 L2158.5,848.0 L2159.4,848.2 L2162.4,849.3 L2165.4,850.6 L2168.4,852.1 L2171.4,853.5 L2174.1,854.5 L2174.4,854.6 L2177.4,855.5 L2180.4,856.4 L2183.4,857.2 L2186.4,858.0 L2189.4,858.7 L2192.4,859.5 L2195.4,860.2 L2198.4,861.0 L2198.7,861.1 L2201.4,861.9 L2204.4,862.7 L2207.4,863.6 L2210.4,864.5 L2213.4,865.3 L2214.7,865.6 L2216.4,866.0 L2219.4,866.6 L2222.4,867.2 L2225.4,867.8 L2228.4,868.3 L2231.4,868.9 L2234.4,869.5 L2237.4,870.2 L2239.3,870.6 L2240.4,870.9 L2243.4,871.7 L2246.4,872.6 L2249.4,873.6 L2252.4,874.5 L2255.4,875.4 L2255.7,875.5 L2258.4,876.3 L2261.4,877.1 L2264.4,877.9 L2267.4,878.7 L2270.4,879.5 L2273.4,880.3 L2276.4,881.1 L2279.4,881.9 L2280.3,882.1 L2282.4,882.7 L2285.4,883.5 L2288.4,884.4 L2291.4,885.2 L2294.4,886.0 L2296.8,886.5 L2297.4,886.6 L2300.4,887.3 L2303.4,888.0 L2306.4,888.7 L2309.4,889.4 L2312.4,889.9 L2315.4,890.4 L2318.4,890.7 L2321.4,890.8 L2324.4,890.8 L2327.4,890.7 L2330.4,890.6 L2333.4,890.5 L2336.4,890.3 L2337.8,890.3 L2339.4,890.2 L2342.4,890.1 L2345.4,890.0 L2348.4,889.9 L2351.4,889.8 L2354.4,889.7 L2357.4,889.6 L2360.4,889.5 L2363.4,889.4 L2364.0,889.4 L2366.4,889.3 L2369.4,889.3 L2372.4,889.2 L2375.4,889.1 L2378.4,889.0 L2381.4,888.9 L2384.4,888.9 L2387.4,888.8 L2390.4,888.7 L2393.4,888.7 L2396.4,888.7 L2399.4,888.6 L2402.4,888.6 L2405.0,888.6 L2405.4,888.6 L2408.4,888.6 L2411.4,888.6 L2414.4,888.7 L2417.4,888.8 L2420.4,888.8 L2423.4,888.9 L2426.4,889.0 L2429.4,889.2 L2432.4,889.3 L2435.4,889.4 L2438.4,889.5 L2441.4,889.6 L2444.4,889.8 L2447.4,889.9 L2447.7,889.9 L2450.4,890.0 L2453.4,890.1 L2456.4,890.3 L2459.4,890.4 L2462.4,890.6 L2465.4,890.8 L2468.4,890.9 L2471.4,891.1 L2474.4,891.3 L2477.4,891.5 L2480.4,891.7 L2483.4,891.9 L2486.4,892.1 L2488.8,892.2 L2489.4,892.2 L2492.4,892.4 L2495.4,892.6 L2498.4,892.8 L2501.4,893.0 L2504.4,893.3 L2507.4,893.5 L2510.4,893.7 L2513.4,893.9 L2516.4,894.1 L2519.4,894.4 L2522.4,894.6 L2525.4,894.8 L2528.4,895.0 L2531.4,895.2 L2531.5,895.2 L2534.4,895.4 L2537.4,895.6 L2540.4,895.8 L2543.4,896.0 L2546.4,896.2 L2549.4,896.4 L2552.4,896.6 L2555.4,896.8 L2558.4,897.0 L2561.4,897.2 L2564.4,897.3 L2567.4,897.5 L2570.4,897.6 L2572.5,897.7 L2573.4,897.7 L2576.4,897.8 L2579.4,897.9 L2582.4,898.0 L2585.4,898.1 L2588.4,898.2 L2591.4,898.3 L2594.4,898.4 L2597.4,898.5 L2600.4,898.5 L2603.4,898.6 L2606.4,898.7 L2609.4,898.7 L2612.4,898.8 L2615.0,898.8 L2615.4,898.8 L2618.4,898.8 L2621.4,898.9 L2624.4,898.9 L2627.4,898.9 L2630.4,898.9 L2633.4,898.9 L2636.4,899.0 L2639.4,899.0 L2640.6,899.0 L2642.4,899.0 L2645.4,899.1 L2648.4,899.1 L2651.4,899.1 L2654.4,899.2 L2657.4,899.2 L2660.4,899.3 L2663.4,899.3 L2666.4,899.4 L2669.4,899.4 L2672.4,899.5 L2675.4,899.5 L2678.4,899.5 L2681.4,899.5 L2681.7,899.5 L2684.4,899.5 L2687.4,899.4 L2690.4,899.2 L2693.4,899.0 L2696.4,898.8 L2699.4,898.5 L2699.7,898.5 L2702.4,898.3 L2705.4,897.9 L2708.4,897.5 L2711.4,897.1 L2714.4,896.8 L2717.4,896.5 L2717.8,896.5 L2720.4,896.3 L2723.4,896.2 L2726.4,896.0 L2729.4,895.9 L2732.4,895.7 L2735.4,895.6 L2738.4,895.5 L2739.1,895.5 L2741.4,895.4 L2744.4,895.3 L2747.4,895.2 L2750.4,895.1 L2753.4,895.1 L2756.4,895.0 L2759.4,894.9 L2762.4,894.8 L2765.4,894.8 L2768.4,894.7 L2771.4,894.6 L2774.4,894.5 L2777.4,894.5 L2780.2,894.4 L2780.4,894.4 L2783.4,894.3 L2786.4,894.2 L2789.4,894.2 L2792.4,894.1 L2795.4,894.0 L2798.4,893.9 L2801.4,893.9 L2804.4,893.8 L2807.4,893.7 L2810.4,893.6 L2813.4,893.6 L2816.4,893.5 L2819.4,893.4 L2821.2,893.4 L2822.4,893.4 L2825.4,893.3 L2828.4,893.2 L2831.4,893.2 L2834.4,893.1 L2837.4,893.0 L2840.4,893.0 L2843.4,892.9 L2846.4,892.9 L2849.4,892.8 L2852.4,892.8 L2855.4,892.7 L2858.4,892.7 L2861.4,892.7 L2862.2,892.7 L2864.4,892.7 L2867.4,892.7 L2870.4,892.7 L2873.4,892.7 L2876.4,892.7 L2879.4,892.7 L2882.4,892.7 L2885.4,892.7 L2888.4,892.7 L2891.4,892.7 L2894.4,892.7 L2897.4,892.7 L2900.4,892.7 L2903.2,892.7 L2903.4,892.7 L2906.4,892.7 L2909.4,892.7 L2912.4,892.7 L2915.4,892.7 L2918.4,892.8 L2921.4,892.8 L2924.4,892.8 L2927.4,892.8 L2930.4,892.9 L2933.4,892.9 L2936.4,892.9 L2939.4,893.0 L2942.4,893.0 L2943.5,893.0"/>
<path class="c d" stroke="#62bc33" stroke-dashoffset="9" d="M1803.2,631.4 L1805.5,622.0 L1807.3,612.0 L1809.0,592.8 L1810.3,565.0 L1811.4,545.8 L1812.1,562.0 L1812.6,580.8 L1813.4,560.0 L1814.2,480.0 L1815.0,400.0 L1815.8,327.0 L1816.6,350.0 L1817.5,378.0 L1818.3,362.0 L1819.0,351.0 L1819.9,385.0 L1821.2,433.0 L1822.4,380.0 L1822.9,320.0 L1824.0,230.0 L1825.2,170.0 L1826.2,143.0 L1827.1,180.0 L1827.9,225.0 L1831.0,318.0 L1832.2,385.0 L1832.9,425.0 L1834.3,395.0 L1835.5,373.0 L1837.0,420.0 L1839.9,498.5 L1842.0,436.0 L1843.4,390.0 L1844.5,358.5 L1846.2,380.0 L1848.4,411.0 L1850.1,330.0 L1851.3,240.0 L1852.4,170.0 L1853.5,140.5 L1854.8,170.0 L1856.8,225.0 L1858.0,240.0 L1860.1,231.0 L1861.6,275.0 L1863.3,324.0 L1865.4,313.0 L1868.3,325.0 L1870.0,295.0 L1872.0,268.5 L1876.0,276.0 L1879.0,269.5 L1880.6,290.0 L1882.0,310.0 L1886.5,360.0 L1891.0,405.0 L1896.0,450.0 L1901.7,497.0 L1905.0,535.0 L1907.3,568.0 L1908.6,579.0 L1910.4,577.0 L1912.3,575.2 L1915.6,588.0 L1918.9,609.2 L1923.0,619.0 L1926.3,632.2 L1928.8,640.4 L1934.5,638.0 L1939.4,640.4 L1942.7,636.3 L1945.2,647.0 L1947.6,661.8 L1950.9,674.9 L1956.7,668.3 L1962.4,672.4 L1967.3,684.7 L1973.1,697.8 L1978.0,694.6 L1982.9,704.5 L1988.7,709.5 L1994.4,716.6 L1999.3,718.3 L2003.4,710.9 L2010.0,706.8 L2014.9,715.8 L2019.8,732.2 L2023.9,742.9 L2028.0,732.2 L2033.0,726.5 L2037.0,723.2 L2039.5,709.2 L2042.8,698.6 L2046.9,692.0 L2052.7,696.9 L2056.0,691.2 L2061.7,678.9 L2064.7,676.5 L2067.4,675.6 L2067.7,675.6 L2070.7,676.1 L2073.7,677.1 L2074.0,677.2 L2076.7,678.5 L2079.7,680.7 L2082.7,683.2 L2085.7,685.9 L2087.1,687.1 L2088.7,688.5 L2091.7,691.2 L2094.7,694.1 L2097.7,696.9 L2098.6,697.7 L2100.7,699.8 L2103.7,703.1 L2106.7,705.5 L2108.5,706.0 L2109.7,705.2 L2112.7,699.7 L2114.2,697.7 L2115.7,696.7 L2117.5,696.1 L2118.7,696.4 L2121.7,699.2 L2123.2,701.0 L2124.7,703.0 L2127.7,708.2 L2128.2,709.2 L2130.7,715.9 L2133.1,721.5 L2133.7,722.3 L2136.7,725.6 L2139.7,727.9 L2141.3,728.9 L2142.7,729.6 L2145.7,730.9 L2148.7,732.0 L2151.7,733.0 L2154.7,734.1 L2156.1,734.7 L2157.7,735.5 L2160.7,737.2 L2163.7,739.0 L2166.7,741.0 L2169.7,743.0 L2170.8,743.7 L2172.7,745.2 L2175.7,747.9 L2178.7,750.2 L2181.5,751.1 L2181.7,751.1 L2184.7,746.4 L2187.3,740.4 L2187.7,739.6 L2190.7,733.6 L2193.7,728.2 L2193.8,728.1 L2196.7,723.9 L2199.7,720.2 L2202.0,718.3 L2202.7,717.9 L2205.7,716.3 L2208.1,715.8 L2208.7,715.9 L2211.7,717.4 L2213.0,718.3 L2214.7,720.1 L2217.7,723.2 L2218.0,723.2 L2220.7,722.5 L2223.7,721.0 L2226.2,720.4 L2226.7,720.4 L2229.7,721.0 L2232.7,722.3 L2235.7,723.8 L2236.0,724.0 L2238.7,725.9 L2241.7,728.9 L2244.7,732.4 L2247.5,735.5 L2247.7,735.7 L2250.7,739.0 L2253.7,742.5 L2256.7,746.0 L2259.7,749.3 L2260.6,750.3 L2262.7,752.6 L2265.7,755.8 L2268.7,758.8 L2271.7,761.5 L2272.1,761.8 L2274.7,763.8 L2277.7,765.9 L2280.7,767.7 L2283.6,769.1 L2283.7,769.1 L2286.7,770.3 L2289.7,771.3 L2292.7,772.1 L2295.1,772.4 L2295.7,772.4 L2298.7,772.6 L2301.7,772.8 L2304.7,772.9 L2306.6,772.9 L2307.7,772.9 L2310.7,772.7 L2313.7,772.4 L2316.7,772.1 L2319.7,771.7 L2322.7,771.2 L2325.7,770.9 L2326.3,770.8 L2328.7,770.5 L2331.7,770.2 L2334.7,769.9 L2337.7,769.6 L2340.7,769.3 L2343.7,768.9 L2346.7,768.7 L2349.7,768.4 L2350.9,768.3 L2352.7,768.2 L2355.7,767.9 L2358.7,767.6 L2361.7,767.4 L2364.7,767.1 L2367.7,766.9 L2370.7,766.8 L2373.7,766.7 L2375.5,766.7 L2376.7,766.7 L2379.7,766.7 L2382.7,766.8 L2385.7,766.8 L2388.7,766.9 L2391.7,767.0 L2391.9,767.0 L2394.7,767.1 L2397.7,767.3 L2400.7,767.5 L2403.7,767.8 L2406.7,768.1 L2408.4,768.3 L2409.7,768.4 L2412.7,768.8 L2415.7,769.3 L2418.7,769.8 L2421.5,770.3 L2421.7,770.3 L2424.7,771.0 L2427.7,771.8 L2430.7,772.3 L2432.2,772.4 L2433.7,772.3 L2436.7,771.2 L2439.7,769.6 L2442.7,767.7 L2445.7,766.1 L2446.1,765.9 L2448.7,764.8 L2451.7,763.5 L2454.7,762.3 L2457.7,761.2 L2460.7,760.2 L2460.9,760.1 L2463.7,759.2 L2466.7,758.3 L2469.7,757.5 L2472.7,756.8 L2474.0,756.5 L2475.7,756.2 L2478.7,755.6 L2481.7,755.1 L2484.7,754.6 L2487.7,754.2 L2490.4,753.9 L2490.7,753.9 L2493.7,753.5 L2496.7,753.2 L2499.7,753.0 L2502.7,752.7 L2505.7,752.5 L2508.7,752.3 L2511.7,752.1 L2514.7,751.9 L2515.0,751.9 L2517.7,751.8 L2520.7,751.7 L2523.7,751.6 L2526.7,751.5 L2529.7,751.4 L2532.7,751.3 L2535.7,751.2 L2538.7,751.1 L2539.7,751.1 L2541.7,751.0 L2544.7,750.9 L2547.7,750.8 L2550.7,750.7 L2553.7,750.6 L2556.7,750.5 L2559.7,750.3 L2562.7,750.2 L2565.7,750.1 L2568.7,750.0 L2571.7,749.9 L2572.5,749.9 L2574.7,749.8 L2577.7,749.7 L2580.7,749.6 L2583.7,749.5 L2586.7,749.4 L2589.7,749.3 L2592.7,749.3 L2595.7,749.2 L2598.7,749.2 L2599.6,749.2 L2601.7,749.2 L2604.7,749.3 L2607.7,749.4 L2610.7,749.6 L2613.7,749.8 L2616.7,750.0 L2619.7,750.3 L2622.7,750.5 L2624.2,750.6 L2625.7,750.7 L2628.7,751.0 L2631.7,751.3 L2634.7,751.6 L2637.7,752.0 L2640.7,752.4 L2643.7,752.7 L2646.7,753.1 L2648.9,753.3 L2649.7,753.4 L2652.7,753.7 L2655.7,754.0 L2658.7,754.3 L2661.7,754.6 L2664.7,754.9 L2667.7,755.2 L2670.7,755.5 L2673.5,755.8 L2673.7,755.8 L2676.7,756.1 L2679.7,756.5 L2682.7,756.8 L2685.7,757.1 L2688.7,757.5 L2691.7,757.8 L2694.7,758.2 L2697.7,758.6 L2698.1,758.6 L2700.7,758.9 L2703.7,759.3 L2706.7,759.7 L2709.7,760.1 L2712.7,760.5 L2715.7,760.9 L2718.7,761.4 L2721.7,761.8 L2722.7,762.0 L2724.7,762.4 L2727.7,762.9 L2730.7,763.5 L2733.7,764.2 L2736.7,764.9 L2739.7,765.6 L2742.7,766.3 L2745.7,766.9 L2747.3,767.3 L2748.7,767.6 L2751.7,768.3 L2754.7,768.9 L2757.7,769.6 L2760.7,770.3 L2763.7,771.0 L2766.7,771.7 L2769.7,772.4 L2771.9,773.0 L2772.7,773.2 L2775.7,774.0 L2778.7,774.9 L2781.7,775.7 L2784.7,776.6 L2787.7,777.6 L2790.7,778.5 L2793.7,779.5 L2796.6,780.4 L2796.7,780.4 L2799.7,781.4 L2802.7,782.5 L2805.7,783.6 L2808.7,784.7 L2811.7,785.8 L2813.0,786.2 L2814.7,786.8 L2817.7,787.9 L2820.7,788.9 L2823.7,789.7 L2824.5,789.9 L2826.7,790.3 L2829.7,790.8 L2832.7,791.2 L2835.7,791.5 L2838.7,791.9 L2841.7,792.2 L2844.7,792.6 L2845.8,792.7 L2847.7,793.0 L2850.7,793.3 L2853.7,793.7 L2856.7,794.1 L2859.7,794.5 L2862.7,794.9 L2865.7,795.3 L2868.7,795.7 L2870.4,796.0 L2871.7,796.2 L2874.7,796.7 L2877.7,797.2 L2880.7,797.7 L2883.7,798.3 L2886.7,798.9 L2889.7,799.4 L2892.7,800.0 L2895.0,800.4 L2895.7,800.5 L2898.7,801.1 L2901.7,801.6 L2904.7,802.2 L2907.7,802.7 L2910.7,803.3 L2913.7,803.8 L2916.7,804.4 L2919.7,805.0 L2922.7,805.6 L2925.7,806.2 L2928.7,806.8 L2931.7,807.4 L2934.7,808.1 L2937.7,808.7 L2940.7,809.4 L2943.5,810.0"/>
<rect class="ax" x="1802.3" y="27.5" width="1141.3999999999999" height="885.5"/>
<line class="tk" x1="1802.3" y1="735.8" x2="1815.3" y2="735.8"/>
<text transform="translate(1779.5 748.1) scale(0.985 1)" text-anchor="end">0.1</text>
<line class="tk" x1="1802.3" y1="558.7" x2="1815.3" y2="558.7"/>
<text transform="translate(1779.5 571.0) scale(0.985 1)" text-anchor="end">0.2</text>
<line class="tk" x1="1802.3" y1="381.7" x2="1815.3" y2="381.7"/>
<text transform="translate(1779.5 394.0) scale(0.985 1)" text-anchor="end">0.3</text>
<line class="tk" x1="1802.3" y1="204.6" x2="1815.3" y2="204.6"/>
<text transform="translate(1779.5 216.9) scale(0.985 1)" text-anchor="end">0.4</text>
<text transform="translate(1779.5 39.8) scale(0.985 1)" text-anchor="end">0.5</text>
<text transform="translate(1768 976.3) scale(0.955 1)" text-anchor="middle">0</text>
<line class="tk" x1="2030.6" y1="913" x2="2030.6" y2="900"/>
<text transform="translate(2030.6 976.3) scale(0.955 1)" text-anchor="middle">2</text>
<line class="tk" x1="2258.9" y1="913" x2="2258.9" y2="900"/>
<text transform="translate(2258.9 976.3) scale(0.955 1)" text-anchor="middle">4</text>
<line class="tk" x1="2487.1" y1="913" x2="2487.1" y2="900"/>
<text transform="translate(2487.1 976.3) scale(0.955 1)" text-anchor="middle">6</text>
<line class="tk" x1="2715.4" y1="913" x2="2715.4" y2="900"/>
<text transform="translate(2715.4 976.3) scale(0.955 1)" text-anchor="middle">8</text>
<text transform="translate(2944.7 976.3) scale(0.955 1)" text-anchor="middle">10</text>
<text x="2373" y="1038" text-anchor="middle"><tspan class="cj">周期</tspan>/s</text>
<text class="cap" x="2371.5" y="1103.5" text-anchor="middle">(b) <tspan class="cj">高频和低频分量的地震影响系数</tspan></text>
<text transform="translate(1694,469) rotate(-90)" class="yl" text-anchor="middle"><tspan class="cj">地震影响系数</tspan></text>
<line x1="2515" y1="113.0" x2="2620.5" y2="113.0" stroke="#df2329" stroke-width="3.1"/>
<text x="2642" y="130.0"><tspan class="cj">原始地震动</tspan></text>
<line x1="2515" y1="181.5" x2="2620.5" y2="181.5" stroke="#3049a2" stroke-width="3.1" stroke-dasharray="26 16.5"/>
<text x="2642" y="198.5"><tspan class="cj">低频分量</tspan></text>
<line x1="2515" y1="250.0" x2="2620.5" y2="250.0" stroke="#000" stroke-width="3.1" stroke-dasharray="26 16.5"/>
<text x="2642" y="267.0"><tspan class="cj">高频分量</tspan></text>
<line x1="2515" y1="318.5" x2="2620.5" y2="318.5" stroke="#62bc33" stroke-width="3.1" stroke-dasharray="26 16.5"/>
<text x="2642" y="335.5"><tspan class="cj">重构地震动</tspan></text>
</g>
</svg></body></html>
